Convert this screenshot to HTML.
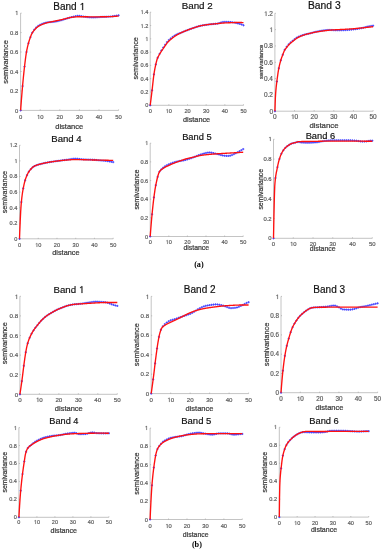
<!DOCTYPE html><html><head><meta charset="utf-8"><style>html,body{margin:0;padding:0;background:#fff;width:382px;height:550px;overflow:hidden}svg{display:block;will-change:transform}</style></head><body>
<svg width="382" height="550" viewBox="0 0 382 550">
<rect width="382" height="550" fill="#fff"/>
<g font-family='"Liberation Sans", sans-serif'><path d="M20.60 13.10 V110.40 H118.60" fill="none" stroke="#c4c4c4" stroke-width="1"/><path d="M20.60 110.40 v-1.00 M40.20 110.40 v-1.00 M59.80 110.40 v-1.00 M79.40 110.40 v-1.00 M99.00 110.40 v-1.00 M118.60 110.40 v-1.00 M20.60 110.40 h1.00 M20.60 90.94 h1.00 M20.60 71.48 h1.00 M20.60 52.02 h1.00 M20.60 32.56 h1.00 M20.60 13.10 h1.00" fill="none" stroke="#9a9a9a" stroke-width="0.6"/><text x="20.60" y="119.00" font-size="5.90" text-anchor="middle" fill="#5a5a5a" stroke="#5a5a5a" stroke-width="0.18">0</text><text x="40.20" y="119.00" font-size="5.90" text-anchor="middle" fill="#5a5a5a" stroke="#5a5a5a" stroke-width="0.18"> 0</text><path transform="matrix(0.00288 0 0 -0.00288 36.919 119.000)" d="M583 0V1237L265 1010V1180L598 1409H764V0Z" fill="#5a5a5a" stroke="#5a5a5a" stroke-width="0.18" vector-effect="non-scaling-stroke"/><text x="59.80" y="119.00" font-size="5.90" text-anchor="middle" fill="#5a5a5a" stroke="#5a5a5a" stroke-width="0.18">20</text><text x="79.40" y="119.00" font-size="5.90" text-anchor="middle" fill="#5a5a5a" stroke="#5a5a5a" stroke-width="0.18">30</text><text x="99.00" y="119.00" font-size="5.90" text-anchor="middle" fill="#5a5a5a" stroke="#5a5a5a" stroke-width="0.18">40</text><text x="118.60" y="119.00" font-size="5.90" text-anchor="middle" fill="#5a5a5a" stroke="#5a5a5a" stroke-width="0.18">50</text><text x="18.30" y="113.00" font-size="5.90" text-anchor="end" fill="#5a5a5a" stroke="#5a5a5a" stroke-width="0.18">0</text><text x="18.30" y="93.00" font-size="5.90" text-anchor="end" fill="#5a5a5a" stroke="#5a5a5a" stroke-width="0.18">0.2</text><text x="18.30" y="74.00" font-size="5.90" text-anchor="end" fill="#5a5a5a" stroke="#5a5a5a" stroke-width="0.18">0.4</text><text x="18.30" y="54.00" font-size="5.90" text-anchor="end" fill="#5a5a5a" stroke="#5a5a5a" stroke-width="0.18">0.6</text><text x="18.30" y="35.00" font-size="5.90" text-anchor="end" fill="#5a5a5a" stroke="#5a5a5a" stroke-width="0.18">0.8</text><text x="18.30" y="15.00" font-size="5.90" text-anchor="end" fill="#5a5a5a" stroke="#5a5a5a" stroke-width="0.18"> </text><path transform="matrix(0.00288 0 0 -0.00288 15.019 15.000)" d="M583 0V1237L265 1010V1180L598 1409H764V0Z" fill="#5a5a5a" stroke="#5a5a5a" stroke-width="0.18" vector-effect="non-scaling-stroke"/><text x="69.20" y="128.80" font-size="7.50" text-anchor="middle" fill="#3a3a3a" stroke="#3a3a3a" stroke-width="0.22">distance</text><text transform="translate(7.90 62.00) rotate(-90)" font-size="7.40" text-anchor="middle" fill="#3a3a3a" stroke="#3a3a3a" stroke-width="0.22">semivariance</text><text x="69.10" y="10.00" font-size="10.00" text-anchor="middle" fill="#111" stroke="#111" stroke-width="0.18">Band  </text><path transform="matrix(0.00488 0 0 -0.00488 79.386 10.000)" d="M583 0V1237L265 1010V1180L598 1409H764V0Z" fill="#111" stroke="#111" stroke-width="0.18" vector-effect="non-scaling-stroke"/><path d="M19.50 110.40h2.20M20.60 109.30v2.20M21.46 86.08h2.20M22.56 84.98v2.20M23.42 66.62h2.20M24.52 65.52v2.20M25.38 52.02h2.20M26.48 50.92v2.20M27.34 43.26h2.20M28.44 42.16v2.20M29.30 37.20h2.20M30.40 36.10v2.20M31.26 32.59h2.20M32.36 31.49v2.20M33.22 29.64h2.20M34.32 28.54v2.20M35.18 27.44h2.20M36.28 26.34v2.20M37.14 25.88h2.20M38.24 24.78v2.20M39.10 24.77h2.20M40.20 23.67v2.20M41.06 23.89h2.20M42.16 22.79v2.20M43.02 23.13h2.20M44.12 22.03v2.20M44.98 22.58h2.20M46.08 21.48v2.20M46.94 22.27h2.20M48.04 21.17v2.20M48.90 22.08h2.20M50.00 20.98v2.20M50.86 21.96h2.20M51.96 20.86v2.20M52.82 21.84h2.20M53.92 20.74v2.20M54.78 21.55h2.20M55.88 20.45v2.20M56.74 21.11h2.20M57.84 20.01v2.20M58.70 20.63h2.20M59.80 19.53v2.20M60.66 20.11h2.20M61.76 19.01v2.20M62.62 19.54h2.20M63.72 18.44v2.20M64.58 18.91h2.20M65.68 17.81v2.20M66.54 18.27h2.20M67.64 17.17v2.20M68.50 17.65h2.20M69.60 16.55v2.20M70.46 17.13h2.20M71.56 16.03v2.20M72.42 16.70h2.20M73.52 15.60v2.20M74.38 16.22h2.20M75.48 15.12v2.20M76.34 15.89h2.20M77.44 14.79v2.20M78.30 15.92h2.20M79.40 14.82v2.20M80.26 16.22h2.20M81.36 15.12v2.20M82.22 16.58h2.20M83.32 15.48v2.20M84.18 16.84h2.20M85.28 15.74v2.20M86.14 17.08h2.20M87.24 15.98v2.20M88.10 17.29h2.20M89.20 16.19v2.20M90.06 17.43h2.20M91.16 16.33v2.20M92.02 17.48h2.20M93.12 16.38v2.20M93.98 17.41h2.20M95.08 16.31v2.20M95.94 17.26h2.20M97.04 16.16v2.20M97.90 17.10h2.20M99.00 16.00v2.20M99.86 16.99h2.20M100.96 15.89v2.20M101.82 16.91h2.20M102.92 15.81v2.20M103.78 16.84h2.20M104.88 15.74v2.20M105.74 16.76h2.20M106.84 15.66v2.20M107.70 16.66h2.20M108.80 15.56v2.20M109.66 16.51h2.20M110.76 15.41v2.20M111.62 16.28h2.20M112.72 15.18v2.20M113.58 15.99h2.20M114.68 14.89v2.20M115.54 15.67h2.20M116.64 14.57v2.20M117.50 15.34h2.20M118.60 14.24v2.20" fill="none" stroke="#4040ff" stroke-width="0.9"/><polyline points="20.60,110.40 20.85,107.09 21.09,103.85 21.34,100.68 21.58,97.60 21.83,94.59 22.07,91.66 22.32,88.82 22.56,86.08 22.80,83.40 23.05,80.78 23.30,78.22 23.54,75.73 23.79,73.32 24.03,70.99 24.28,68.75 24.52,66.62 24.77,64.54 25.01,62.50 25.26,60.52 25.50,58.60 25.75,56.78 25.99,55.06 26.23,53.47 26.48,52.02 26.73,50.69 26.97,49.45 27.22,48.28 27.46,47.17 27.71,46.12 27.95,45.13 28.20,44.18 28.44,43.26 28.69,42.39 28.93,41.56 29.18,40.76 29.42,40.00 29.66,39.27 29.91,38.56 30.16,37.87 30.40,37.20 30.65,36.52 30.89,35.86 31.14,35.22 31.38,34.62 31.62,34.08 31.87,33.59 32.12,33.16 32.36,32.74 32.61,32.35 32.85,31.98 33.09,31.62 33.34,31.29 33.59,30.96 33.83,30.66 34.08,30.36 34.32,30.07 34.56,29.79 34.81,29.52 35.05,29.26 35.30,28.99 35.55,28.74 35.79,28.49 36.04,28.25 36.28,28.02 36.52,27.79 36.77,27.58 37.02,27.37 37.26,27.17 37.51,26.98 37.75,26.80 38.00,26.63 38.24,26.46 38.48,26.31 38.73,26.16 38.98,26.01 39.22,25.87 39.47,25.74 39.71,25.61 39.95,25.48 40.20,25.35 40.45,25.23 40.69,25.12 40.94,25.00 41.18,24.89 41.42,24.78 41.67,24.68 41.92,24.57 42.16,24.47 42.41,24.37 42.65,24.27 42.89,24.17 43.14,24.08 43.39,23.98 43.63,23.89 43.88,23.80 44.12,23.71 44.37,23.62 44.61,23.54 44.86,23.45 45.10,23.37 45.34,23.29 45.59,23.21 45.84,23.13 46.08,23.06 46.33,22.98 46.57,22.91 46.81,22.84 47.06,22.77 47.30,22.71 47.55,22.64 47.80,22.58 48.04,22.52 48.28,22.46 48.53,22.40 48.78,22.34 49.02,22.29 49.27,22.24 49.51,22.18 49.76,22.13 50.00,22.08 50.25,22.03 50.49,21.98 50.73,21.94 50.98,21.89 51.23,21.84 51.47,21.79 51.72,21.74 51.96,21.69 52.20,21.64 52.45,21.59 52.70,21.54 52.94,21.49 53.19,21.44 53.43,21.39 53.68,21.34 53.92,21.28 54.16,21.23 54.41,21.18 54.66,21.13 54.90,21.08 55.15,21.03 55.39,20.97 55.63,20.92 55.88,20.87 56.12,20.82 56.37,20.77 56.62,20.72 56.86,20.67 57.11,20.61 57.35,20.56 57.59,20.51 57.84,20.46 58.09,20.41 58.33,20.36 58.58,20.30 58.82,20.25 59.06,20.20 59.31,20.15 59.55,20.10 59.80,20.04 60.05,19.99 60.29,19.94 60.54,19.88 60.78,19.83 61.02,19.78 61.27,19.73 61.52,19.67 61.76,19.62 62.01,19.56 62.25,19.51 62.49,19.45 62.74,19.39 62.98,19.33 63.23,19.27 63.48,19.21 63.72,19.15 63.97,19.09 64.21,19.02 64.45,18.96 64.70,18.90 64.94,18.83 65.19,18.77 65.44,18.70 65.68,18.64 65.92,18.57 66.17,18.51 66.41,18.44 66.66,18.38 66.91,18.31 67.15,18.25 67.40,18.19 67.64,18.12 67.88,18.06 68.13,18.00 68.38,17.94 68.62,17.88 68.87,17.83 69.11,17.77 69.36,17.72 69.60,17.66 69.84,17.61 70.09,17.56 70.34,17.52 70.58,17.47 70.83,17.43 71.07,17.39 71.31,17.35 71.56,17.31 71.81,17.28 72.05,17.24 72.30,17.21 72.54,17.19 72.78,17.16 73.03,17.14 73.28,17.11 73.52,17.08 73.77,17.06 74.01,17.03 74.25,17.01 74.50,16.99 74.75,16.96 74.99,16.94 75.23,16.92 75.48,16.90 75.72,16.87 75.97,16.85 76.22,16.84 76.46,16.82 76.70,16.80 76.95,16.78 77.19,16.77 77.44,16.75 77.69,16.74 77.93,16.73 78.17,16.72 78.42,16.71 78.66,16.71 78.91,16.70 79.16,16.70 79.40,16.70 79.65,16.70 79.89,16.70 80.13,16.70 80.38,16.70 80.62,16.70 80.87,16.71 81.12,16.71 81.36,16.71 81.60,16.71 81.85,16.72 82.09,16.72 82.34,16.72 82.59,16.72 82.83,16.73 83.08,16.73 83.32,16.73 83.56,16.74 83.81,16.74 84.06,16.75 84.30,16.75 84.55,16.75 84.79,16.76 85.03,16.76 85.28,16.76 85.53,16.77 85.77,16.77 86.01,16.77 86.26,16.78 86.50,16.78 86.75,16.78 87.00,16.78 87.24,16.79 87.49,16.79 87.73,16.79 87.97,16.79 88.22,16.79 88.47,16.80 88.71,16.80 88.96,16.80 89.20,16.80 89.44,16.80 89.69,16.80 89.94,16.80 90.18,16.80 90.43,16.80 90.67,16.80 90.91,16.80 91.16,16.80 91.41,16.80 91.65,16.80 91.90,16.80 92.14,16.80 92.38,16.80 92.63,16.80 92.88,16.80 93.12,16.80 93.37,16.80 93.61,16.80 93.85,16.80 94.10,16.80 94.34,16.80 94.59,16.80 94.84,16.80 95.08,16.80 95.32,16.80 95.57,16.80 95.81,16.80 96.06,16.80 96.31,16.80 96.55,16.80 96.79,16.80 97.04,16.80 97.28,16.80 97.53,16.80 97.78,16.80 98.02,16.80 98.26,16.80 98.51,16.80 98.75,16.80 99.00,16.80 99.25,16.80 99.49,16.80 99.74,16.80 99.98,16.80 100.22,16.79 100.47,16.79 100.72,16.79 100.96,16.79 101.21,16.79 101.45,16.79 101.69,16.78 101.94,16.78 102.19,16.78 102.43,16.78 102.68,16.77 102.92,16.77 103.16,16.77 103.41,16.77 103.66,16.76 103.90,16.76 104.15,16.75 104.39,16.75 104.63,16.75 104.88,16.74 105.12,16.74 105.37,16.73 105.62,16.73 105.86,16.72 106.10,16.72 106.35,16.71 106.59,16.71 106.84,16.70 107.09,16.70 107.33,16.69 107.57,16.69 107.82,16.68 108.06,16.67 108.31,16.67 108.56,16.66 108.80,16.66 109.04,16.65 109.29,16.64 109.53,16.64 109.78,16.63 110.03,16.62 110.27,16.62 110.51,16.61 110.76,16.60 111.00,16.60 111.25,16.59 111.50,16.58 111.74,16.57 111.99,16.56 112.23,16.54 112.47,16.53 112.72,16.52 112.97,16.50 113.21,16.49 113.46,16.47 113.70,16.45 113.94,16.44 114.19,16.42 114.44,16.40 114.68,16.38 114.93,16.36 115.17,16.34 115.41,16.32 115.66,16.30 115.91,16.27 116.15,16.25 116.40,16.23 116.64,16.21 116.88,16.18 117.13,16.16 117.38,16.14 117.62,16.11 117.87,16.09 118.11,16.07 118.35,16.04 118.60,16.02" fill="none" stroke="#ff1010" stroke-width="1.35" stroke-linejoin="round"/></g>
<g font-family='"Liberation Sans", sans-serif'><path d="M150.20 12.20 V105.30 H243.50" fill="none" stroke="#c4c4c4" stroke-width="1"/><path d="M150.20 105.30 v-1.00 M168.86 105.30 v-1.00 M187.52 105.30 v-1.00 M206.18 105.30 v-1.00 M224.84 105.30 v-1.00 M243.50 105.30 v-1.00 M150.20 105.30 h1.00 M150.20 92.00 h1.00 M150.20 78.70 h1.00 M150.20 65.40 h1.00 M150.20 52.10 h1.00 M150.20 38.80 h1.00 M150.20 25.50 h1.00 M150.20 12.20 h1.00" fill="none" stroke="#9a9a9a" stroke-width="0.6"/><text x="150.20" y="113.00" font-size="5.60" text-anchor="middle" fill="#5a5a5a" stroke="#5a5a5a" stroke-width="0.18">0</text><text x="168.86" y="113.00" font-size="5.60" text-anchor="middle" fill="#5a5a5a" stroke="#5a5a5a" stroke-width="0.18"> 0</text><path transform="matrix(0.00273 0 0 -0.00273 165.746 113.000)" d="M583 0V1237L265 1010V1180L598 1409H764V0Z" fill="#5a5a5a" stroke="#5a5a5a" stroke-width="0.18" vector-effect="non-scaling-stroke"/><text x="187.52" y="113.00" font-size="5.60" text-anchor="middle" fill="#5a5a5a" stroke="#5a5a5a" stroke-width="0.18">20</text><text x="206.18" y="113.00" font-size="5.60" text-anchor="middle" fill="#5a5a5a" stroke="#5a5a5a" stroke-width="0.18">30</text><text x="224.84" y="113.00" font-size="5.60" text-anchor="middle" fill="#5a5a5a" stroke="#5a5a5a" stroke-width="0.18">40</text><text x="243.50" y="113.00" font-size="5.60" text-anchor="middle" fill="#5a5a5a" stroke="#5a5a5a" stroke-width="0.18">50</text><text x="148.30" y="107.00" font-size="5.60" text-anchor="end" fill="#5a5a5a" stroke="#5a5a5a" stroke-width="0.18">0</text><text x="148.30" y="94.00" font-size="5.60" text-anchor="end" fill="#5a5a5a" stroke="#5a5a5a" stroke-width="0.18">0.2</text><text x="148.30" y="81.00" font-size="5.60" text-anchor="end" fill="#5a5a5a" stroke="#5a5a5a" stroke-width="0.18">0.4</text><text x="148.30" y="67.00" font-size="5.60" text-anchor="end" fill="#5a5a5a" stroke="#5a5a5a" stroke-width="0.18">0.6</text><text x="148.30" y="54.00" font-size="5.60" text-anchor="end" fill="#5a5a5a" stroke="#5a5a5a" stroke-width="0.18">0.8</text><text x="148.30" y="41.00" font-size="5.60" text-anchor="end" fill="#5a5a5a" stroke="#5a5a5a" stroke-width="0.18"> </text><path transform="matrix(0.00273 0 0 -0.00273 145.186 41.000)" d="M583 0V1237L265 1010V1180L598 1409H764V0Z" fill="#5a5a5a" stroke="#5a5a5a" stroke-width="0.18" vector-effect="non-scaling-stroke"/><text x="148.30" y="28.00" font-size="5.60" text-anchor="end" fill="#5a5a5a" stroke="#5a5a5a" stroke-width="0.18"> .2</text><path transform="matrix(0.00273 0 0 -0.00273 140.515 28.000)" d="M583 0V1237L265 1010V1180L598 1409H764V0Z" fill="#5a5a5a" stroke="#5a5a5a" stroke-width="0.18" vector-effect="non-scaling-stroke"/><text x="148.30" y="14.00" font-size="5.60" text-anchor="end" fill="#5a5a5a" stroke="#5a5a5a" stroke-width="0.18"> .4</text><path transform="matrix(0.00273 0 0 -0.00273 140.515 14.000)" d="M583 0V1237L265 1010V1180L598 1409H764V0Z" fill="#5a5a5a" stroke="#5a5a5a" stroke-width="0.18" vector-effect="non-scaling-stroke"/><text x="196.60" y="121.50" font-size="7.30" text-anchor="middle" fill="#3a3a3a" stroke="#3a3a3a" stroke-width="0.22">distance</text><text transform="translate(137.80 58.40) rotate(-90)" font-size="7.20" text-anchor="middle" fill="#3a3a3a" stroke="#3a3a3a" stroke-width="0.22">semivariance</text><text x="197.20" y="9.00" font-size="9.80" text-anchor="middle" fill="#111" stroke="#111" stroke-width="0.18">Band 2</text><path d="M149.10 105.30h2.20M150.20 104.20v2.20M150.97 90.34h2.20M152.07 89.24v2.20M152.83 74.38h2.20M153.93 73.28v2.20M154.70 64.40h2.20M155.80 63.30v2.20M156.56 57.82h2.20M157.66 56.72v2.20M158.43 53.93h2.20M159.53 52.83v2.20M160.30 50.44h2.20M161.40 49.34v2.20M162.16 47.51h2.20M163.26 46.41v2.20M164.03 44.79h2.20M165.13 43.69v2.20M165.89 42.12h2.20M166.99 41.02v2.20M167.76 40.04h2.20M168.86 38.94v2.20M169.63 38.43h2.20M170.73 37.33v2.20M171.49 36.99h2.20M172.59 35.89v2.20M173.36 35.73h2.20M174.46 34.63v2.20M175.22 34.64h2.20M176.32 33.54v2.20M177.09 33.79h2.20M178.19 32.69v2.20M178.96 33.11h2.20M180.06 32.01v2.20M180.82 32.37h2.20M181.92 31.27v2.20M182.69 31.57h2.20M183.79 30.47v2.20M184.55 30.81h2.20M185.65 29.71v2.20M186.42 30.09h2.20M187.52 28.99v2.20M188.29 29.39h2.20M189.39 28.29v2.20M190.15 28.71h2.20M191.25 27.61v2.20M192.02 28.07h2.20M193.12 26.97v2.20M193.88 27.44h2.20M194.98 26.34v2.20M195.75 26.82h2.20M196.85 25.72v2.20M197.62 26.26h2.20M198.72 25.16v2.20M199.48 25.79h2.20M200.58 24.69v2.20M201.35 25.42h2.20M202.45 24.32v2.20M203.21 25.10h2.20M204.31 24.00v2.20M205.08 24.82h2.20M206.18 23.72v2.20M206.95 24.57h2.20M208.05 23.47v2.20M208.81 24.34h2.20M209.91 23.24v2.20M210.68 24.15h2.20M211.78 23.05v2.20M212.54 23.97h2.20M213.64 22.87v2.20M214.41 23.79h2.20M215.51 22.69v2.20M216.28 23.61h2.20M217.38 22.51v2.20M218.14 23.14h2.20M219.24 22.04v2.20M220.01 22.44h2.20M221.11 21.34v2.20M221.87 22.00h2.20M222.97 20.90v2.20M223.74 21.92h2.20M224.84 20.82v2.20M225.61 21.92h2.20M226.71 20.82v2.20M227.47 21.97h2.20M228.57 20.87v2.20M229.34 22.09h2.20M230.44 20.99v2.20M231.20 22.30h2.20M232.30 21.20v2.20M233.07 22.56h2.20M234.17 21.46v2.20M234.94 22.95h2.20M236.04 21.85v2.20M236.80 23.44h2.20M237.90 22.34v2.20M238.67 23.93h2.20M239.77 22.83v2.20M240.53 24.52h2.20M241.63 23.42v2.20M242.40 25.30h2.20M243.50 24.20v2.20" fill="none" stroke="#4040ff" stroke-width="0.9"/><polyline points="150.20,105.30 150.43,103.48 150.67,101.65 150.90,99.80 151.13,97.94 151.37,96.06 151.60,94.17 151.83,92.26 152.07,90.34 152.30,88.34 152.53,86.25 152.77,84.10 153.00,81.96 153.23,79.87 153.47,77.87 153.70,76.03 153.93,74.38 154.17,72.89 154.40,71.48 154.63,70.14 154.86,68.88 155.10,67.68 155.33,66.53 155.56,65.44 155.80,64.40 156.03,63.39 156.26,62.41 156.50,61.46 156.73,60.57 156.96,59.75 157.20,59.02 157.43,58.38 157.66,57.82 157.90,57.30 158.13,56.83 158.36,56.38 158.60,55.96 158.83,55.54 159.06,55.13 159.30,54.71 159.53,54.29 159.76,53.89 160.00,53.49 160.23,53.10 160.46,52.72 160.70,52.34 160.93,51.97 161.16,51.60 161.40,51.24 161.63,50.87 161.86,50.51 162.10,50.16 162.33,49.80 162.56,49.45 162.80,49.11 163.03,48.76 163.26,48.42 163.50,48.09 163.73,47.75 163.96,47.42 164.19,47.09 164.43,46.76 164.66,46.43 164.89,46.11 165.13,45.78 165.36,45.45 165.59,45.12 165.83,44.79 166.06,44.46 166.29,44.13 166.53,43.80 166.76,43.48 166.99,43.17 167.23,42.87 167.46,42.58 167.69,42.31 167.93,42.05 168.16,41.80 168.39,41.56 168.63,41.33 168.86,41.10 169.09,40.88 169.33,40.67 169.56,40.46 169.79,40.25 170.03,40.05 170.26,39.85 170.49,39.65 170.73,39.45 170.96,39.26 171.19,39.06 171.43,38.87 171.66,38.68 171.89,38.49 172.13,38.30 172.36,38.11 172.59,37.92 172.83,37.74 173.06,37.56 173.29,37.38 173.52,37.21 173.76,37.04 173.99,36.86 174.22,36.70 174.46,36.53 174.69,36.37 174.92,36.21 175.16,36.05 175.39,35.90 175.62,35.75 175.86,35.60 176.09,35.45 176.32,35.31 176.56,35.17 176.79,35.03 177.02,34.89 177.26,34.75 177.49,34.61 177.72,34.48 177.96,34.35 178.19,34.22 178.42,34.09 178.66,33.97 178.89,33.84 179.12,33.72 179.36,33.60 179.59,33.48 179.82,33.36 180.06,33.25 180.29,33.13 180.52,33.02 180.76,32.91 180.99,32.80 181.22,32.69 181.46,32.58 181.69,32.48 181.92,32.37 182.16,32.27 182.39,32.17 182.62,32.07 182.85,31.96 183.09,31.86 183.32,31.76 183.55,31.66 183.79,31.57 184.02,31.47 184.25,31.37 184.49,31.28 184.72,31.18 184.95,31.09 185.19,30.99 185.42,30.90 185.65,30.81 185.89,30.71 186.12,30.62 186.35,30.53 186.59,30.44 186.82,30.35 187.05,30.26 187.29,30.17 187.52,30.09 187.75,30.00 187.99,29.91 188.22,29.82 188.45,29.73 188.69,29.65 188.92,29.56 189.15,29.47 189.39,29.39 189.62,29.30 189.85,29.22 190.09,29.13 190.32,29.05 190.55,28.96 190.79,28.88 191.02,28.79 191.25,28.71 191.49,28.63 191.72,28.55 191.95,28.47 192.19,28.39 192.42,28.31 192.65,28.23 192.88,28.15 193.12,28.07 193.35,28.00 193.58,27.92 193.82,27.84 194.05,27.76 194.28,27.68 194.52,27.60 194.75,27.52 194.98,27.44 195.22,27.36 195.45,27.28 195.68,27.21 195.92,27.13 196.15,27.05 196.38,26.97 196.62,26.90 196.85,26.82 197.08,26.75 197.32,26.68 197.55,26.60 197.78,26.53 198.02,26.46 198.25,26.39 198.48,26.33 198.72,26.26 198.95,26.20 199.18,26.13 199.42,26.07 199.65,26.01 199.88,25.95 200.12,25.90 200.35,25.85 200.58,25.79 200.82,25.74 201.05,25.70 201.28,25.65 201.51,25.60 201.75,25.56 201.98,25.51 202.21,25.47 202.45,25.42 202.68,25.38 202.91,25.34 203.15,25.30 203.38,25.26 203.61,25.22 203.85,25.18 204.08,25.14 204.31,25.10 204.55,25.06 204.78,25.03 205.01,24.99 205.25,24.95 205.48,24.92 205.71,24.89 205.95,24.85 206.18,24.82 206.41,24.78 206.65,24.75 206.88,24.72 207.11,24.69 207.35,24.66 207.58,24.63 207.81,24.60 208.05,24.57 208.28,24.54 208.51,24.51 208.75,24.48 208.98,24.45 209.21,24.42 209.45,24.39 209.68,24.37 209.91,24.34 210.15,24.32 210.38,24.29 210.61,24.27 210.84,24.24 211.08,24.22 211.31,24.19 211.54,24.17 211.78,24.15 212.01,24.12 212.24,24.10 212.48,24.08 212.71,24.05 212.94,24.03 213.18,24.01 213.41,23.99 213.64,23.97 213.88,23.94 214.11,23.92 214.34,23.90 214.58,23.88 214.81,23.86 215.04,23.83 215.28,23.81 215.51,23.79 215.74,23.77 215.98,23.75 216.21,23.72 216.44,23.70 216.68,23.68 216.91,23.65 217.14,23.63 217.38,23.61 217.61,23.58 217.84,23.56 218.08,23.54 218.31,23.51 218.54,23.49 218.78,23.46 219.01,23.44 219.24,23.41 219.48,23.39 219.71,23.36 219.94,23.34 220.18,23.32 220.41,23.29 220.64,23.27 220.87,23.25 221.11,23.22 221.34,23.20 221.57,23.18 221.81,23.16 222.04,23.14 222.27,23.12 222.51,23.10 222.74,23.08 222.97,23.06 223.21,23.04 223.44,23.03 223.67,23.01 223.91,22.99 224.14,22.98 224.37,22.97 224.61,22.95 224.84,22.94 225.07,22.93 225.31,22.92 225.54,22.90 225.77,22.89 226.01,22.88 226.24,22.87 226.47,22.86 226.71,22.85 226.94,22.84 227.17,22.83 227.41,22.82 227.64,22.81 227.87,22.80 228.11,22.79 228.34,22.78 228.57,22.77 228.81,22.76 229.04,22.75 229.27,22.74 229.50,22.73 229.74,22.73 229.97,22.72 230.20,22.71 230.44,22.70 230.67,22.69 230.90,22.68 231.14,22.68 231.37,22.67 231.60,22.66 231.84,22.65 232.07,22.64 232.30,22.63 232.54,22.62 232.77,22.62 233.00,22.61 233.24,22.60 233.47,22.59 233.70,22.58 233.94,22.57 234.17,22.56 234.40,22.55 234.64,22.54 234.87,22.53 235.10,22.52 235.34,22.51 235.57,22.50 235.80,22.49 236.04,22.48 236.27,22.48 236.50,22.47 236.74,22.46 236.97,22.46 237.20,22.45 237.44,22.45 237.67,22.45 237.90,22.44 238.14,22.44 238.37,22.44 238.60,22.44 238.84,22.44 239.07,22.44 239.30,22.45 239.53,22.45 239.77,22.46 240.00,22.46 240.23,22.47 240.47,22.48 240.70,22.49 240.93,22.49 241.17,22.50 241.40,22.52 241.63,22.53 241.87,22.54 242.10,22.55 242.33,22.56 242.57,22.58 242.80,22.59 243.03,22.61 243.27,22.62 243.50,22.64" fill="none" stroke="#ff1010" stroke-width="1.35" stroke-linejoin="round"/></g>
<g font-family='"Liberation Sans", sans-serif'><path d="M274.90 13.30 V111.20 H373.10" fill="none" stroke="#c4c4c4" stroke-width="1"/><path d="M274.90 111.20 v-1.00 M294.54 111.20 v-1.00 M314.18 111.20 v-1.00 M333.82 111.20 v-1.00 M353.46 111.20 v-1.00 M373.10 111.20 v-1.00 M274.90 111.20 h1.00 M274.90 94.88 h1.00 M274.90 78.57 h1.00 M274.90 62.25 h1.00 M274.90 45.93 h1.00 M274.90 29.62 h1.00 M274.90 13.30 h1.00" fill="none" stroke="#9a9a9a" stroke-width="0.6"/><text x="274.90" y="119.00" font-size="6.50" text-anchor="middle" fill="#5a5a5a" stroke="#5a5a5a" stroke-width="0.18">0</text><text x="294.54" y="119.00" font-size="6.50" text-anchor="middle" fill="#5a5a5a" stroke="#5a5a5a" stroke-width="0.18"> 0</text><path transform="matrix(0.00317 0 0 -0.00317 290.925 119.000)" d="M583 0V1237L265 1010V1180L598 1409H764V0Z" fill="#5a5a5a" stroke="#5a5a5a" stroke-width="0.18" vector-effect="non-scaling-stroke"/><text x="314.18" y="119.00" font-size="6.50" text-anchor="middle" fill="#5a5a5a" stroke="#5a5a5a" stroke-width="0.18">20</text><text x="333.82" y="119.00" font-size="6.50" text-anchor="middle" fill="#5a5a5a" stroke="#5a5a5a" stroke-width="0.18">30</text><text x="353.46" y="119.00" font-size="6.50" text-anchor="middle" fill="#5a5a5a" stroke="#5a5a5a" stroke-width="0.18">40</text><text x="373.10" y="119.00" font-size="6.50" text-anchor="middle" fill="#5a5a5a" stroke="#5a5a5a" stroke-width="0.18">50</text><text x="273.00" y="114.00" font-size="6.50" text-anchor="end" fill="#5a5a5a" stroke="#5a5a5a" stroke-width="0.18">0</text><text x="273.00" y="97.00" font-size="6.50" text-anchor="end" fill="#5a5a5a" stroke="#5a5a5a" stroke-width="0.18">0.2</text><text x="273.00" y="81.00" font-size="6.50" text-anchor="end" fill="#5a5a5a" stroke="#5a5a5a" stroke-width="0.18">0.4</text><text x="273.00" y="65.00" font-size="6.50" text-anchor="end" fill="#5a5a5a" stroke="#5a5a5a" stroke-width="0.18">0.6</text><text x="273.00" y="48.00" font-size="6.50" text-anchor="end" fill="#5a5a5a" stroke="#5a5a5a" stroke-width="0.18">0.8</text><text x="273.00" y="32.00" font-size="6.50" text-anchor="end" fill="#5a5a5a" stroke="#5a5a5a" stroke-width="0.18"> </text><path transform="matrix(0.00317 0 0 -0.00317 269.385 32.000)" d="M583 0V1237L265 1010V1180L598 1409H764V0Z" fill="#5a5a5a" stroke="#5a5a5a" stroke-width="0.18" vector-effect="non-scaling-stroke"/><text x="273.00" y="16.00" font-size="6.50" text-anchor="end" fill="#5a5a5a" stroke="#5a5a5a" stroke-width="0.18"> .2</text><path transform="matrix(0.00317 0 0 -0.00317 263.964 16.000)" d="M583 0V1237L265 1010V1180L598 1409H764V0Z" fill="#5a5a5a" stroke="#5a5a5a" stroke-width="0.18" vector-effect="non-scaling-stroke"/><text x="324.00" y="128.10" font-size="7.80" text-anchor="middle" fill="#3a3a3a" stroke="#3a3a3a" stroke-width="0.22">distance</text><text transform="translate(262.80 61.80) rotate(-90)" font-size="5.80" text-anchor="middle" fill="#3a3a3a" stroke="#3a3a3a" stroke-width="0.22">semivariance</text><text x="324.30" y="9.00" font-size="10.30" text-anchor="middle" fill="#111" stroke="#111" stroke-width="0.18">Band 3</text><path d="M273.80 111.20h2.20M274.90 110.10v2.20M275.76 81.50h2.20M276.86 80.40v2.20M277.73 68.21h2.20M278.83 67.11v2.20M279.69 60.29h2.20M280.79 59.19v2.20M281.66 54.74h2.20M282.76 53.64v2.20M283.62 49.77h2.20M284.72 48.67v2.20M285.58 46.76h2.20M286.68 45.66v2.20M287.55 44.36h2.20M288.65 43.26v2.20M289.51 42.42h2.20M290.61 41.32v2.20M291.48 40.85h2.20M292.58 39.75v2.20M293.44 39.26h2.20M294.54 38.16v2.20M295.40 37.82h2.20M296.50 36.72v2.20M297.37 36.78h2.20M298.47 35.68v2.20M299.33 35.97h2.20M300.43 34.87v2.20M301.30 35.25h2.20M302.40 34.15v2.20M303.26 34.62h2.20M304.36 33.52v2.20M305.22 34.13h2.20M306.32 33.03v2.20M307.19 33.73h2.20M308.29 32.63v2.20M309.15 33.30h2.20M310.25 32.20v2.20M311.12 32.77h2.20M312.22 31.67v2.20M313.08 32.22h2.20M314.18 31.12v2.20M315.04 31.75h2.20M316.14 30.65v2.20M317.01 31.34h2.20M318.11 30.24v2.20M318.97 30.98h2.20M320.07 29.88v2.20M320.94 30.63h2.20M322.04 29.53v2.20M322.90 30.34h2.20M324.00 29.24v2.20M324.86 30.13h2.20M325.96 29.03v2.20M326.83 30.02h2.20M327.93 28.92v2.20M328.79 29.97h2.20M329.89 28.87v2.20M330.76 30.03h2.20M331.86 28.93v2.20M332.72 30.17h2.20M333.82 29.07v2.20M334.68 30.24h2.20M335.78 29.14v2.20M336.65 30.24h2.20M337.75 29.14v2.20M338.61 30.23h2.20M339.71 29.13v2.20M340.58 30.20h2.20M341.68 29.10v2.20M342.54 30.16h2.20M343.64 29.06v2.20M344.50 30.07h2.20M345.60 28.97v2.20M346.47 29.95h2.20M347.57 28.85v2.20M348.43 29.79h2.20M349.53 28.69v2.20M350.40 29.60h2.20M351.50 28.50v2.20M352.36 29.38h2.20M353.46 28.28v2.20M354.32 29.14h2.20M355.42 28.04v2.20M356.29 28.87h2.20M357.39 27.77v2.20M358.25 28.55h2.20M359.35 27.45v2.20M360.22 28.18h2.20M361.32 27.08v2.20M362.18 27.76h2.20M363.28 26.66v2.20M364.14 27.21h2.20M365.24 26.11v2.20M366.11 26.69h2.20M367.21 25.59v2.20M368.07 26.31h2.20M369.17 25.21v2.20M370.04 25.97h2.20M371.14 24.87v2.20M372.00 25.70h2.20M373.10 24.60v2.20" fill="none" stroke="#4040ff" stroke-width="0.9"/><polyline points="274.90,111.20 275.15,103.71 275.39,97.50 275.64,93.51 275.88,90.39 276.13,87.79 276.37,85.55 276.62,83.50 276.86,81.50 277.11,79.51 277.35,77.60 277.60,75.79 277.85,74.06 278.09,72.44 278.34,70.92 278.58,69.50 278.83,68.21 279.07,67.01 279.32,65.88 279.56,64.82 279.81,63.82 280.06,62.88 280.30,61.98 280.55,61.12 280.79,60.29 281.04,59.50 281.28,58.75 281.53,58.03 281.77,57.34 282.02,56.67 282.26,56.02 282.51,55.38 282.76,54.74 283.00,54.11 283.25,53.47 283.49,52.83 283.74,52.21 283.98,51.62 284.23,51.06 284.47,50.55 284.72,50.09 284.97,49.69 285.21,49.32 285.46,48.97 285.70,48.65 285.95,48.34 286.19,48.03 286.44,47.73 286.68,47.42 286.93,47.10 287.17,46.79 287.42,46.49 287.67,46.18 287.91,45.88 288.16,45.59 288.40,45.30 288.65,45.02 288.89,44.74 289.14,44.48 289.38,44.22 289.63,43.97 289.88,43.73 290.12,43.51 290.37,43.29 290.61,43.07 290.86,42.87 291.10,42.66 291.35,42.46 291.59,42.27 291.84,42.08 292.08,41.88 292.33,41.69 292.58,41.50 292.82,41.31 293.07,41.11 293.31,40.91 293.56,40.71 293.80,40.51 294.05,40.31 294.29,40.11 294.54,39.91 294.79,39.71 295.03,39.52 295.28,39.32 295.52,39.14 295.77,38.95 296.01,38.77 296.26,38.60 296.50,38.44 296.75,38.28 297.00,38.12 297.24,37.98 297.49,37.84 297.73,37.70 297.98,37.57 298.22,37.44 298.47,37.31 298.71,37.19 298.96,37.07 299.20,36.95 299.45,36.84 299.70,36.72 299.94,36.61 300.19,36.50 300.43,36.40 300.68,36.29 300.92,36.19 301.17,36.08 301.41,35.98 301.66,35.88 301.90,35.78 302.15,35.68 302.40,35.58 302.64,35.48 302.89,35.39 303.13,35.29 303.38,35.20 303.62,35.11 303.87,35.02 304.11,34.94 304.36,34.85 304.61,34.77 304.85,34.69 305.10,34.61 305.34,34.54 305.59,34.46 305.83,34.39 306.08,34.32 306.32,34.25 306.57,34.19 306.81,34.12 307.06,34.06 307.31,34.00 307.55,33.94 307.80,33.88 308.04,33.82 308.29,33.76 308.53,33.71 308.78,33.65 309.02,33.59 309.27,33.53 309.52,33.48 309.76,33.42 310.01,33.36 310.25,33.30 310.50,33.24 310.74,33.18 310.99,33.12 311.23,33.06 311.48,33.00 311.73,32.93 311.97,32.87 312.22,32.81 312.46,32.74 312.71,32.68 312.95,32.62 313.20,32.57 313.44,32.51 313.69,32.46 313.93,32.40 314.18,32.36 314.43,32.31 314.67,32.26 314.92,32.21 315.16,32.17 315.41,32.12 315.65,32.08 315.90,32.04 316.14,31.99 316.39,31.95 316.63,31.91 316.88,31.87 317.13,31.83 317.37,31.79 317.62,31.75 317.86,31.71 318.11,31.67 318.35,31.63 318.60,31.59 318.84,31.55 319.09,31.52 319.34,31.48 319.58,31.44 319.83,31.41 320.07,31.37 320.32,31.34 320.56,31.30 320.81,31.27 321.05,31.23 321.30,31.20 321.55,31.16 321.79,31.13 322.04,31.10 322.28,31.06 322.53,31.03 322.77,30.99 323.02,30.96 323.26,30.93 323.51,30.89 323.75,30.86 324.00,30.82 324.25,30.79 324.49,30.76 324.74,30.72 324.98,30.69 325.23,30.66 325.47,30.63 325.72,30.60 325.96,30.56 326.21,30.53 326.45,30.50 326.70,30.47 326.95,30.44 327.19,30.41 327.44,30.38 327.68,30.36 327.93,30.33 328.17,30.30 328.42,30.27 328.66,30.25 328.91,30.22 329.16,30.20 329.40,30.18 329.65,30.16 329.89,30.13 330.14,30.11 330.38,30.09 330.63,30.07 330.87,30.06 331.12,30.04 331.37,30.02 331.61,30.00 331.86,29.99 332.10,29.97 332.35,29.95 332.59,29.94 332.84,29.92 333.08,29.91 333.33,29.89 333.57,29.88 333.82,29.86 334.07,29.85 334.31,29.83 334.56,29.82 334.80,29.81 335.05,29.79 335.29,29.78 335.54,29.77 335.78,29.75 336.03,29.74 336.27,29.73 336.52,29.71 336.77,29.70 337.01,29.69 337.26,29.68 337.50,29.66 337.75,29.65 337.99,29.64 338.24,29.62 338.48,29.61 338.73,29.60 338.98,29.58 339.22,29.57 339.47,29.56 339.71,29.55 339.96,29.53 340.20,29.52 340.45,29.51 340.69,29.50 340.94,29.49 341.19,29.47 341.43,29.46 341.68,29.45 341.92,29.44 342.17,29.43 342.41,29.42 342.66,29.41 342.90,29.39 343.15,29.38 343.39,29.37 343.64,29.36 343.89,29.35 344.13,29.33 344.38,29.32 344.62,29.31 344.87,29.30 345.11,29.28 345.36,29.27 345.60,29.26 345.85,29.24 346.10,29.23 346.34,29.22 346.59,29.20 346.83,29.19 347.08,29.17 347.32,29.16 347.57,29.14 347.81,29.13 348.06,29.11 348.30,29.10 348.55,29.08 348.80,29.06 349.04,29.05 349.29,29.03 349.53,29.02 349.78,29.00 350.02,28.98 350.27,28.97 350.51,28.95 350.76,28.93 351.00,28.91 351.25,28.90 351.50,28.88 351.74,28.86 351.99,28.84 352.23,28.82 352.48,28.80 352.72,28.79 352.97,28.77 353.21,28.75 353.46,28.73 353.71,28.71 353.95,28.69 354.20,28.67 354.44,28.65 354.69,28.63 354.93,28.61 355.18,28.59 355.42,28.57 355.67,28.54 355.92,28.52 356.16,28.50 356.41,28.48 356.65,28.45 356.90,28.43 357.14,28.40 357.39,28.38 357.63,28.36 357.88,28.33 358.12,28.31 358.37,28.28 358.62,28.26 358.86,28.23 359.11,28.20 359.35,28.18 359.60,28.15 359.84,28.13 360.09,28.10 360.33,28.07 360.58,28.05 360.83,28.02 361.07,28.00 361.32,27.97 361.56,27.94 361.81,27.92 362.05,27.89 362.30,27.87 362.54,27.84 362.79,27.81 363.03,27.79 363.28,27.76 363.53,27.74 363.77,27.71 364.02,27.68 364.26,27.66 364.51,27.63 364.75,27.61 365.00,27.58 365.24,27.55 365.49,27.53 365.74,27.50 365.98,27.47 366.23,27.45 366.47,27.42 366.72,27.39 366.96,27.37 367.21,27.34 367.45,27.31 367.70,27.29 367.94,27.26 368.19,27.23 368.44,27.21 368.68,27.18 368.93,27.15 369.17,27.12 369.42,27.10 369.66,27.07 369.91,27.04 370.15,27.01 370.40,26.99 370.65,26.96 370.89,26.93 371.14,26.90 371.38,26.88 371.63,26.85 371.87,26.82 372.12,26.79 372.36,26.76 372.61,26.74 372.85,26.71 373.10,26.68" fill="none" stroke="#ff1010" stroke-width="1.35" stroke-linejoin="round"/></g>
<g font-family='"Liberation Sans", sans-serif'><path d="M19.50 145.30 V238.80 H113.20" fill="none" stroke="#c4c4c4" stroke-width="1"/><path d="M19.50 238.80 v-1.00 M38.24 238.80 v-1.00 M56.98 238.80 v-1.00 M75.72 238.80 v-1.00 M94.46 238.80 v-1.00 M113.20 238.80 v-1.00 M19.50 238.80 h1.00 M19.50 223.22 h1.00 M19.50 207.63 h1.00 M19.50 192.05 h1.00 M19.50 176.47 h1.00 M19.50 160.88 h1.00 M19.50 145.30 h1.00" fill="none" stroke="#9a9a9a" stroke-width="0.6"/><text x="19.50" y="247.00" font-size="5.60" text-anchor="middle" fill="#5a5a5a" stroke="#5a5a5a" stroke-width="0.18">0</text><text x="38.24" y="247.00" font-size="5.60" text-anchor="middle" fill="#5a5a5a" stroke="#5a5a5a" stroke-width="0.18"> 0</text><path transform="matrix(0.00273 0 0 -0.00273 35.126 247.000)" d="M583 0V1237L265 1010V1180L598 1409H764V0Z" fill="#5a5a5a" stroke="#5a5a5a" stroke-width="0.18" vector-effect="non-scaling-stroke"/><text x="56.98" y="247.00" font-size="5.60" text-anchor="middle" fill="#5a5a5a" stroke="#5a5a5a" stroke-width="0.18">20</text><text x="75.72" y="247.00" font-size="5.60" text-anchor="middle" fill="#5a5a5a" stroke="#5a5a5a" stroke-width="0.18">30</text><text x="94.46" y="247.00" font-size="5.60" text-anchor="middle" fill="#5a5a5a" stroke="#5a5a5a" stroke-width="0.18">40</text><text x="113.20" y="247.00" font-size="5.60" text-anchor="middle" fill="#5a5a5a" stroke="#5a5a5a" stroke-width="0.18">50</text><text x="17.40" y="241.00" font-size="5.60" text-anchor="end" fill="#5a5a5a" stroke="#5a5a5a" stroke-width="0.18">0</text><text x="17.40" y="225.00" font-size="5.60" text-anchor="end" fill="#5a5a5a" stroke="#5a5a5a" stroke-width="0.18">0.2</text><text x="17.40" y="210.00" font-size="5.60" text-anchor="end" fill="#5a5a5a" stroke="#5a5a5a" stroke-width="0.18">0.4</text><text x="17.40" y="194.00" font-size="5.60" text-anchor="end" fill="#5a5a5a" stroke="#5a5a5a" stroke-width="0.18">0.6</text><text x="17.40" y="178.00" font-size="5.60" text-anchor="end" fill="#5a5a5a" stroke="#5a5a5a" stroke-width="0.18">0.8</text><text x="17.40" y="163.00" font-size="5.60" text-anchor="end" fill="#5a5a5a" stroke="#5a5a5a" stroke-width="0.18"> </text><path transform="matrix(0.00273 0 0 -0.00273 14.286 163.000)" d="M583 0V1237L265 1010V1180L598 1409H764V0Z" fill="#5a5a5a" stroke="#5a5a5a" stroke-width="0.18" vector-effect="non-scaling-stroke"/><text x="17.40" y="147.00" font-size="5.60" text-anchor="end" fill="#5a5a5a" stroke="#5a5a5a" stroke-width="0.18"> .2</text><path transform="matrix(0.00273 0 0 -0.00273 9.615 147.000)" d="M583 0V1237L265 1010V1180L598 1409H764V0Z" fill="#5a5a5a" stroke="#5a5a5a" stroke-width="0.18" vector-effect="non-scaling-stroke"/><text x="65.90" y="255.10" font-size="7.30" text-anchor="middle" fill="#3a3a3a" stroke="#3a3a3a" stroke-width="0.22">distance</text><text transform="translate(7.30 192.20) rotate(-90)" font-size="7.20" text-anchor="middle" fill="#3a3a3a" stroke="#3a3a3a" stroke-width="0.22">semivariance</text><text x="66.50" y="142.00" font-size="9.60" text-anchor="middle" fill="#111" stroke="#111" stroke-width="0.18">Band 4</text><path d="M18.40 238.80h2.20M19.50 237.70v2.20M20.27 202.09h2.20M21.37 200.99v2.20M22.15 188.39h2.20M23.25 187.29v2.20M24.02 180.33h2.20M25.12 179.23v2.20M25.90 175.19h2.20M27.00 174.09v2.20M27.77 171.67h2.20M28.87 170.57v2.20M29.64 169.24h2.20M30.74 168.14v2.20M31.52 167.34h2.20M32.62 166.24v2.20M33.39 166.09h2.20M34.49 164.99v2.20M35.27 165.27h2.20M36.37 164.17v2.20M37.14 164.64h2.20M38.24 163.54v2.20M39.01 164.12h2.20M40.11 163.02v2.20M40.89 163.66h2.20M41.99 162.56v2.20M42.76 163.21h2.20M43.86 162.11v2.20M44.64 162.82h2.20M45.74 161.72v2.20M46.51 162.46h2.20M47.61 161.36v2.20M48.38 162.14h2.20M49.48 161.04v2.20M50.26 161.84h2.20M51.36 160.74v2.20M52.13 161.56h2.20M53.23 160.46v2.20M54.01 161.30h2.20M55.11 160.20v2.20M55.88 161.05h2.20M56.98 159.95v2.20M57.75 160.81h2.20M58.85 159.71v2.20M59.63 160.56h2.20M60.73 159.46v2.20M61.50 160.30h2.20M62.60 159.20v2.20M63.38 160.05h2.20M64.48 158.95v2.20M65.25 159.82h2.20M66.35 158.72v2.20M67.12 159.57h2.20M68.22 158.47v2.20M69.00 159.25h2.20M70.10 158.15v2.20M70.87 158.96h2.20M71.97 157.86v2.20M72.75 158.75h2.20M73.85 157.65v2.20M74.62 158.71h2.20M75.72 157.61v2.20M76.49 158.83h2.20M77.59 157.73v2.20M78.37 159.04h2.20M79.47 157.94v2.20M80.24 159.26h2.20M81.34 158.16v2.20M82.12 159.40h2.20M83.22 158.30v2.20M83.99 159.47h2.20M85.09 158.37v2.20M85.86 159.53h2.20M86.96 158.43v2.20M87.74 159.60h2.20M88.84 158.50v2.20M89.61 159.67h2.20M90.71 158.57v2.20M91.49 159.75h2.20M92.59 158.65v2.20M93.36 159.87h2.20M94.46 158.77v2.20M95.23 160.04h2.20M96.33 158.94v2.20M97.11 160.22h2.20M98.21 159.12v2.20M98.98 160.40h2.20M100.08 159.30v2.20M100.86 160.56h2.20M101.96 159.46v2.20M102.73 160.71h2.20M103.83 159.61v2.20M104.60 160.89h2.20M105.70 159.79v2.20M106.48 161.11h2.20M107.58 160.01v2.20M108.35 161.44h2.20M109.45 160.34v2.20M110.23 161.81h2.20M111.33 160.71v2.20M112.10 162.13h2.20M113.20 161.03v2.20" fill="none" stroke="#4040ff" stroke-width="0.9"/><polyline points="19.50,238.80 19.73,232.72 19.97,226.88 20.20,221.38 20.44,216.32 20.67,211.79 20.91,207.87 21.14,204.67 21.37,202.09 21.61,199.77 21.84,197.66 22.08,195.76 22.31,194.03 22.55,192.45 22.78,191.00 23.01,189.66 23.25,188.39 23.48,187.18 23.72,186.04 23.95,184.95 24.19,183.92 24.42,182.94 24.65,182.02 24.89,181.15 25.12,180.33 25.36,179.55 25.59,178.83 25.82,178.15 26.06,177.52 26.29,176.90 26.53,176.31 26.76,175.74 27.00,175.19 27.23,174.67 27.46,174.17 27.70,173.69 27.93,173.24 28.17,172.81 28.40,172.41 28.64,172.03 28.87,171.67 29.10,171.34 29.34,171.02 29.57,170.70 29.81,170.40 30.04,170.10 30.28,169.80 30.51,169.52 30.74,169.24 30.98,168.97 31.21,168.71 31.45,168.46 31.68,168.22 31.92,167.98 32.15,167.76 32.38,167.54 32.62,167.34 32.85,167.14 33.09,166.96 33.32,166.79 33.55,166.62 33.79,166.47 34.02,166.33 34.26,166.21 34.49,166.09 34.73,165.97 34.96,165.86 35.19,165.76 35.43,165.65 35.66,165.55 35.90,165.46 36.13,165.36 36.37,165.27 36.60,165.18 36.83,165.10 37.07,165.02 37.30,164.94 37.54,164.86 37.77,164.78 38.01,164.71 38.24,164.64 38.47,164.57 38.71,164.50 38.94,164.43 39.18,164.37 39.41,164.31 39.65,164.24 39.88,164.18 40.11,164.12 40.35,164.06 40.58,164.00 40.82,163.94 41.05,163.89 41.29,163.83 41.52,163.77 41.75,163.71 41.99,163.66 42.22,163.60 42.46,163.54 42.69,163.49 42.92,163.43 43.16,163.37 43.39,163.32 43.63,163.27 43.86,163.21 44.10,163.16 44.33,163.11 44.56,163.06 44.80,163.01 45.03,162.96 45.27,162.92 45.50,162.87 45.74,162.82 45.97,162.77 46.20,162.73 46.44,162.68 46.67,162.64 46.91,162.59 47.14,162.55 47.38,162.51 47.61,162.46 47.84,162.42 48.08,162.38 48.31,162.34 48.55,162.30 48.78,162.26 49.02,162.22 49.25,162.18 49.48,162.14 49.72,162.10 49.95,162.06 50.19,162.02 50.42,161.98 50.66,161.95 50.89,161.91 51.12,161.87 51.36,161.84 51.59,161.80 51.83,161.76 52.06,161.73 52.30,161.69 52.53,161.66 52.76,161.62 53.00,161.59 53.23,161.56 53.47,161.52 53.70,161.49 53.93,161.46 54.17,161.42 54.40,161.39 54.64,161.36 54.87,161.33 55.11,161.30 55.34,161.26 55.57,161.23 55.81,161.20 56.04,161.17 56.28,161.14 56.51,161.11 56.75,161.08 56.98,161.05 57.21,161.02 57.45,161.00 57.68,160.97 57.92,160.94 58.15,160.91 58.39,160.88 58.62,160.86 58.85,160.83 59.09,160.80 59.32,160.77 59.56,160.75 59.79,160.72 60.03,160.69 60.26,160.66 60.49,160.64 60.73,160.61 60.96,160.58 61.20,160.56 61.43,160.53 61.66,160.51 61.90,160.48 62.13,160.45 62.37,160.43 62.60,160.40 62.84,160.38 63.07,160.35 63.30,160.33 63.54,160.31 63.77,160.28 64.01,160.26 64.24,160.24 64.48,160.22 64.71,160.20 64.94,160.17 65.18,160.15 65.41,160.13 65.65,160.11 65.88,160.09 66.12,160.08 66.35,160.06 66.58,160.04 66.82,160.02 67.05,160.01 67.29,159.99 67.52,159.97 67.76,159.95 67.99,159.93 68.22,159.92 68.46,159.90 68.69,159.88 68.93,159.86 69.16,159.84 69.40,159.83 69.63,159.81 69.86,159.79 70.10,159.78 70.33,159.76 70.57,159.74 70.80,159.73 71.03,159.71 71.27,159.70 71.50,159.68 71.74,159.67 71.97,159.65 72.21,159.64 72.44,159.63 72.67,159.62 72.91,159.61 73.14,159.60 73.38,159.59 73.61,159.58 73.85,159.58 74.08,159.57 74.31,159.57 74.55,159.56 74.78,159.56 75.02,159.56 75.25,159.56 75.49,159.56 75.72,159.56 75.95,159.56 76.19,159.56 76.42,159.56 76.66,159.57 76.89,159.57 77.13,159.57 77.36,159.58 77.59,159.58 77.83,159.58 78.06,159.59 78.30,159.59 78.53,159.60 78.77,159.60 79.00,159.61 79.23,159.61 79.47,159.62 79.70,159.62 79.94,159.63 80.17,159.63 80.41,159.64 80.64,159.64 80.87,159.65 81.11,159.66 81.34,159.66 81.58,159.67 81.81,159.67 82.04,159.68 82.28,159.69 82.51,159.69 82.75,159.70 82.98,159.70 83.22,159.71 83.45,159.71 83.68,159.72 83.92,159.72 84.15,159.73 84.39,159.74 84.62,159.74 84.86,159.75 85.09,159.75 85.32,159.76 85.56,159.77 85.79,159.77 86.03,159.78 86.26,159.79 86.50,159.79 86.73,159.80 86.96,159.81 87.20,159.82 87.43,159.82 87.67,159.83 87.90,159.84 88.14,159.84 88.37,159.85 88.60,159.86 88.84,159.87 89.07,159.87 89.31,159.88 89.54,159.89 89.78,159.89 90.01,159.90 90.24,159.91 90.48,159.91 90.71,159.92 90.95,159.93 91.18,159.93 91.41,159.94 91.65,159.94 91.88,159.95 92.12,159.95 92.35,159.96 92.59,159.96 92.82,159.97 93.05,159.97 93.29,159.98 93.52,159.98 93.76,159.99 93.99,159.99 94.23,160.00 94.46,160.00 94.69,160.00 94.93,160.01 95.16,160.01 95.40,160.02 95.63,160.02 95.87,160.02 96.10,160.03 96.33,160.03 96.57,160.04 96.80,160.04 97.04,160.04 97.27,160.05 97.51,160.05 97.74,160.06 97.97,160.06 98.21,160.06 98.44,160.07 98.68,160.07 98.91,160.08 99.15,160.08 99.38,160.09 99.61,160.09 99.85,160.10 100.08,160.10 100.32,160.11 100.55,160.11 100.78,160.11 101.02,160.12 101.25,160.12 101.49,160.13 101.72,160.13 101.96,160.14 102.19,160.15 102.42,160.15 102.66,160.16 102.89,160.16 103.13,160.17 103.36,160.17 103.60,160.18 103.83,160.18 104.06,160.19 104.30,160.19 104.53,160.20 104.77,160.20 105.00,160.21 105.24,160.21 105.47,160.22 105.70,160.22 105.94,160.23 106.17,160.24 106.41,160.24 106.64,160.25 106.88,160.25 107.11,160.26 107.34,160.26 107.58,160.27 107.81,160.28 108.05,160.28 108.28,160.29 108.52,160.29 108.75,160.30 108.98,160.30 109.22,160.31 109.45,160.32 109.69,160.32 109.92,160.33 110.15,160.33 110.39,160.34 110.62,160.35 110.86,160.35 111.09,160.36 111.33,160.37 111.56,160.37 111.79,160.38 112.03,160.38 112.26,160.39 112.50,160.40 112.73,160.40 112.97,160.41 113.20,160.42" fill="none" stroke="#ff1010" stroke-width="1.35" stroke-linejoin="round"/></g>
<g font-family='"Liberation Sans", sans-serif'><path d="M150.20 143.20 V236.50 H243.20" fill="none" stroke="#c4c4c4" stroke-width="1"/><path d="M150.20 236.50 v-1.00 M168.80 236.50 v-1.00 M187.40 236.50 v-1.00 M206.00 236.50 v-1.00 M224.60 236.50 v-1.00 M243.20 236.50 v-1.00 M150.20 236.50 h1.00 M150.20 217.84 h1.00 M150.20 199.18 h1.00 M150.20 180.52 h1.00 M150.20 161.86 h1.00 M150.20 143.20 h1.00" fill="none" stroke="#9a9a9a" stroke-width="0.6"/><text x="150.20" y="244.00" font-size="5.60" text-anchor="middle" fill="#5a5a5a" stroke="#5a5a5a" stroke-width="0.18">0</text><text x="168.80" y="244.00" font-size="5.60" text-anchor="middle" fill="#5a5a5a" stroke="#5a5a5a" stroke-width="0.18"> 0</text><path transform="matrix(0.00273 0 0 -0.00273 165.686 244.000)" d="M583 0V1237L265 1010V1180L598 1409H764V0Z" fill="#5a5a5a" stroke="#5a5a5a" stroke-width="0.18" vector-effect="non-scaling-stroke"/><text x="187.40" y="244.00" font-size="5.60" text-anchor="middle" fill="#5a5a5a" stroke="#5a5a5a" stroke-width="0.18">20</text><text x="206.00" y="244.00" font-size="5.60" text-anchor="middle" fill="#5a5a5a" stroke="#5a5a5a" stroke-width="0.18">30</text><text x="224.60" y="244.00" font-size="5.60" text-anchor="middle" fill="#5a5a5a" stroke="#5a5a5a" stroke-width="0.18">40</text><text x="243.20" y="244.00" font-size="5.60" text-anchor="middle" fill="#5a5a5a" stroke="#5a5a5a" stroke-width="0.18">50</text><text x="148.20" y="239.00" font-size="5.60" text-anchor="end" fill="#5a5a5a" stroke="#5a5a5a" stroke-width="0.18">0</text><text x="148.20" y="220.00" font-size="5.60" text-anchor="end" fill="#5a5a5a" stroke="#5a5a5a" stroke-width="0.18">0.2</text><text x="148.20" y="201.00" font-size="5.60" text-anchor="end" fill="#5a5a5a" stroke="#5a5a5a" stroke-width="0.18">0.4</text><text x="148.20" y="183.00" font-size="5.60" text-anchor="end" fill="#5a5a5a" stroke="#5a5a5a" stroke-width="0.18">0.6</text><text x="148.20" y="164.00" font-size="5.60" text-anchor="end" fill="#5a5a5a" stroke="#5a5a5a" stroke-width="0.18">0.8</text><text x="148.20" y="145.00" font-size="5.60" text-anchor="end" fill="#5a5a5a" stroke="#5a5a5a" stroke-width="0.18"> </text><path transform="matrix(0.00273 0 0 -0.00273 145.086 145.000)" d="M583 0V1237L265 1010V1180L598 1409H764V0Z" fill="#5a5a5a" stroke="#5a5a5a" stroke-width="0.18" vector-effect="non-scaling-stroke"/><text x="196.30" y="249.70" font-size="6.90" text-anchor="middle" fill="#3a3a3a" stroke="#3a3a3a" stroke-width="0.22">distance</text><text transform="translate(138.50 189.60) rotate(-90)" font-size="6.80" text-anchor="middle" fill="#3a3a3a" stroke="#3a3a3a" stroke-width="0.22">semivariance</text><text x="196.90" y="140.00" font-size="9.30" text-anchor="middle" fill="#111" stroke="#111" stroke-width="0.18">Band 5</text><path d="M149.10 236.50h2.20M150.20 235.40v2.20M150.96 214.29h2.20M152.06 213.19v2.20M152.82 197.41h2.20M153.92 196.31v2.20M154.68 185.21h2.20M155.78 184.11v2.20M156.54 176.85h2.20M157.64 175.75v2.20M158.40 171.66h2.20M159.50 170.56v2.20M160.26 169.34h2.20M161.36 168.24v2.20M162.12 167.65h2.20M163.22 166.55v2.20M163.98 166.27h2.20M165.08 165.17v2.20M165.84 165.22h2.20M166.94 164.12v2.20M167.70 164.34h2.20M168.80 163.24v2.20M169.56 163.54h2.20M170.66 162.44v2.20M171.42 162.88h2.20M172.52 161.78v2.20M173.28 162.28h2.20M174.38 161.18v2.20M175.14 161.76h2.20M176.24 160.66v2.20M177.00 161.34h2.20M178.10 160.24v2.20M178.86 160.97h2.20M179.96 159.87v2.20M180.72 160.71h2.20M181.82 159.61v2.20M182.58 160.42h2.20M183.68 159.32v2.20M184.44 159.93h2.20M185.54 158.83v2.20M186.30 159.36h2.20M187.40 158.26v2.20M188.16 158.76h2.20M189.26 157.66v2.20M190.02 158.15h2.20M191.12 157.05v2.20M191.88 157.52h2.20M192.98 156.42v2.20M193.74 156.80h2.20M194.84 155.70v2.20M195.60 156.02h2.20M196.70 154.92v2.20M197.46 155.25h2.20M198.56 154.15v2.20M199.32 154.59h2.20M200.42 153.49v2.20M201.18 154.02h2.20M202.28 152.92v2.20M203.04 153.46h2.20M204.14 152.36v2.20M204.90 152.97h2.20M206.00 151.87v2.20M206.76 152.62h2.20M207.86 151.52v2.20M208.62 152.49h2.20M209.72 151.39v2.20M210.48 152.70h2.20M211.58 151.60v2.20M212.34 153.11h2.20M213.44 152.01v2.20M214.20 153.58h2.20M215.30 152.48v2.20M216.06 154.00h2.20M217.16 152.90v2.20M217.92 154.51h2.20M219.02 153.41v2.20M219.78 155.05h2.20M220.88 153.95v2.20M221.64 155.49h2.20M222.74 154.39v2.20M223.50 155.73h2.20M224.60 154.63v2.20M225.36 155.87h2.20M226.46 154.77v2.20M227.22 155.91h2.20M228.32 154.81v2.20M229.08 155.70h2.20M230.18 154.60v2.20M230.94 155.02h2.20M232.04 153.92v2.20M232.80 154.10h2.20M233.90 153.00v2.20M234.66 153.21h2.20M235.76 152.11v2.20M236.52 152.27h2.20M237.62 151.17v2.20M238.38 151.25h2.20M239.48 150.15v2.20M240.24 150.20h2.20M241.34 149.10v2.20M242.10 149.08h2.20M243.20 147.98v2.20" fill="none" stroke="#4040ff" stroke-width="0.9"/><polyline points="150.20,236.50 150.43,233.43 150.66,230.43 150.90,227.52 151.13,224.69 151.36,221.95 151.59,219.30 151.83,216.74 152.06,214.29 152.29,211.93 152.52,209.63 152.76,207.41 152.99,205.25 153.22,203.17 153.45,201.17 153.69,199.25 153.92,197.41 154.15,195.64 154.38,193.93 154.62,192.29 154.85,190.72 155.08,189.22 155.31,187.81 155.55,186.47 155.78,185.21 156.01,184.02 156.24,182.88 156.48,181.79 156.71,180.74 156.94,179.73 157.17,178.73 157.41,177.77 157.64,176.85 157.87,176.00 158.10,175.21 158.34,174.50 158.57,173.82 158.80,173.19 159.03,172.60 159.27,172.09 159.50,171.66 159.73,171.29 159.96,170.97 160.20,170.69 160.43,170.44 160.66,170.21 160.89,170.01 161.13,169.83 161.36,169.66 161.59,169.51 161.82,169.35 162.06,169.20 162.29,169.04 162.52,168.88 162.75,168.72 162.99,168.56 163.22,168.40 163.45,168.24 163.69,168.08 163.92,167.93 164.15,167.77 164.38,167.62 164.61,167.48 164.85,167.34 165.08,167.20 165.31,167.07 165.54,166.94 165.78,166.82 166.01,166.71 166.24,166.60 166.47,166.49 166.71,166.39 166.94,166.28 167.17,166.18 167.41,166.08 167.64,165.98 167.87,165.88 168.10,165.78 168.33,165.68 168.57,165.57 168.80,165.46 169.03,165.35 169.26,165.24 169.50,165.14 169.73,165.03 169.96,164.92 170.19,164.81 170.43,164.70 170.66,164.60 170.89,164.49 171.12,164.39 171.36,164.29 171.59,164.19 171.82,164.09 172.05,163.99 172.29,163.89 172.52,163.79 172.75,163.70 172.98,163.60 173.22,163.50 173.45,163.41 173.68,163.31 173.91,163.22 174.15,163.12 174.38,163.03 174.61,162.94 174.84,162.85 175.08,162.75 175.31,162.66 175.54,162.57 175.77,162.48 176.01,162.39 176.24,162.31 176.47,162.22 176.70,162.13 176.94,162.04 177.17,161.96 177.40,161.87 177.63,161.79 177.87,161.71 178.10,161.63 178.33,161.54 178.56,161.46 178.80,161.38 179.03,161.30 179.26,161.22 179.50,161.14 179.73,161.06 179.96,160.97 180.19,160.89 180.42,160.81 180.66,160.73 180.89,160.65 181.12,160.56 181.35,160.48 181.59,160.40 181.82,160.31 182.05,160.22 182.28,160.13 182.52,160.04 182.75,159.95 182.98,159.86 183.21,159.77 183.45,159.69 183.68,159.60 183.91,159.51 184.14,159.43 184.38,159.35 184.61,159.28 184.84,159.20 185.07,159.13 185.31,159.07 185.54,159.00 185.77,158.93 186.00,158.87 186.24,158.81 186.47,158.75 186.70,158.69 186.94,158.63 187.17,158.57 187.40,158.52 187.63,158.46 187.86,158.41 188.10,158.35 188.33,158.30 188.56,158.25 188.79,158.19 189.03,158.14 189.26,158.09 189.49,158.04 189.72,157.99 189.96,157.94 190.19,157.89 190.42,157.84 190.66,157.78 190.89,157.73 191.12,157.68 191.35,157.63 191.58,157.58 191.82,157.53 192.05,157.47 192.28,157.42 192.51,157.37 192.75,157.31 192.98,157.26 193.21,157.20 193.44,157.14 193.68,157.09 193.91,157.03 194.14,156.97 194.38,156.91 194.61,156.85 194.84,156.79 195.07,156.72 195.31,156.66 195.54,156.60 195.77,156.54 196.00,156.48 196.23,156.42 196.47,156.36 196.70,156.30 196.93,156.24 197.16,156.18 197.40,156.12 197.63,156.06 197.86,156.00 198.09,155.95 198.33,155.89 198.56,155.84 198.79,155.79 199.02,155.74 199.26,155.69 199.49,155.64 199.72,155.59 199.95,155.55 200.19,155.51 200.42,155.47 200.65,155.43 200.88,155.39 201.12,155.36 201.35,155.32 201.58,155.29 201.81,155.25 202.05,155.22 202.28,155.19 202.51,155.16 202.75,155.13 202.98,155.10 203.21,155.07 203.44,155.04 203.67,155.01 203.91,154.98 204.14,154.95 204.37,154.93 204.60,154.90 204.84,154.87 205.07,154.85 205.30,154.82 205.53,154.80 205.77,154.77 206.00,154.75 206.23,154.72 206.46,154.70 206.70,154.67 206.93,154.65 207.16,154.63 207.39,154.60 207.63,154.58 207.86,154.56 208.09,154.54 208.32,154.51 208.56,154.49 208.79,154.47 209.02,154.45 209.25,154.42 209.49,154.40 209.72,154.38 209.95,154.36 210.19,154.34 210.42,154.31 210.65,154.29 210.88,154.27 211.12,154.25 211.35,154.23 211.58,154.21 211.81,154.19 212.04,154.17 212.28,154.15 212.51,154.13 212.74,154.11 212.97,154.10 213.21,154.08 213.44,154.06 213.67,154.04 213.91,154.02 214.14,154.00 214.37,153.99 214.60,153.97 214.83,153.95 215.07,153.93 215.30,153.92 215.53,153.90 215.76,153.88 216.00,153.87 216.23,153.85 216.46,153.83 216.69,153.82 216.93,153.80 217.16,153.79 217.39,153.77 217.62,153.76 217.86,153.74 218.09,153.73 218.32,153.71 218.56,153.70 218.79,153.68 219.02,153.67 219.25,153.66 219.48,153.64 219.72,153.63 219.95,153.62 220.18,153.60 220.41,153.59 220.65,153.58 220.88,153.56 221.11,153.55 221.34,153.54 221.58,153.52 221.81,153.51 222.04,153.50 222.27,153.48 222.51,153.47 222.74,153.46 222.97,153.44 223.20,153.43 223.44,153.42 223.67,153.40 223.90,153.39 224.13,153.38 224.37,153.36 224.60,153.35 224.83,153.34 225.06,153.32 225.30,153.31 225.53,153.29 225.76,153.28 226.00,153.27 226.23,153.25 226.46,153.24 226.69,153.23 226.93,153.21 227.16,153.20 227.39,153.18 227.62,153.17 227.85,153.16 228.09,153.14 228.32,153.13 228.55,153.11 228.78,153.10 229.02,153.09 229.25,153.07 229.48,153.06 229.71,153.05 229.95,153.03 230.18,153.02 230.41,153.00 230.64,152.99 230.88,152.98 231.11,152.96 231.34,152.95 231.57,152.94 231.81,152.92 232.04,152.91 232.27,152.89 232.50,152.88 232.74,152.87 232.97,152.85 233.20,152.84 233.44,152.82 233.67,152.81 233.90,152.80 234.13,152.78 234.37,152.77 234.60,152.76 234.83,152.74 235.06,152.73 235.29,152.71 235.53,152.70 235.76,152.69 235.99,152.67 236.22,152.66 236.46,152.64 236.69,152.63 236.92,152.62 237.15,152.60 237.39,152.59 237.62,152.58 237.85,152.56 238.08,152.55 238.32,152.53 238.55,152.52 238.78,152.51 239.01,152.49 239.25,152.48 239.48,152.47 239.71,152.45 239.94,152.44 240.18,152.43 240.41,152.41 240.64,152.40 240.88,152.39 241.11,152.37 241.34,152.36 241.57,152.34 241.81,152.33 242.04,152.32 242.27,152.30 242.50,152.29 242.74,152.28 242.97,152.26 243.20,152.25" fill="none" stroke="#ff1010" stroke-width="1.35" stroke-linejoin="round"/></g>
<g font-family='"Liberation Sans", sans-serif'><path d="M273.50 139.30 V238.30 H372.30" fill="none" stroke="#c4c4c4" stroke-width="1"/><path d="M273.50 238.30 v-1.00 M293.26 238.30 v-1.00 M313.02 238.30 v-1.00 M332.78 238.30 v-1.00 M352.54 238.30 v-1.00 M372.30 238.30 v-1.00 M273.50 238.30 h1.00 M273.50 218.50 h1.00 M273.50 198.70 h1.00 M273.50 178.90 h1.00 M273.50 159.10 h1.00 M273.50 139.30 h1.00" fill="none" stroke="#9a9a9a" stroke-width="0.6"/><text x="273.50" y="246.00" font-size="5.90" text-anchor="middle" fill="#5a5a5a" stroke="#5a5a5a" stroke-width="0.18">0</text><text x="293.26" y="246.00" font-size="5.90" text-anchor="middle" fill="#5a5a5a" stroke="#5a5a5a" stroke-width="0.18"> 0</text><path transform="matrix(0.00288 0 0 -0.00288 289.979 246.000)" d="M583 0V1237L265 1010V1180L598 1409H764V0Z" fill="#5a5a5a" stroke="#5a5a5a" stroke-width="0.18" vector-effect="non-scaling-stroke"/><text x="313.02" y="246.00" font-size="5.90" text-anchor="middle" fill="#5a5a5a" stroke="#5a5a5a" stroke-width="0.18">20</text><text x="332.78" y="246.00" font-size="5.90" text-anchor="middle" fill="#5a5a5a" stroke="#5a5a5a" stroke-width="0.18">30</text><text x="352.54" y="246.00" font-size="5.90" text-anchor="middle" fill="#5a5a5a" stroke="#5a5a5a" stroke-width="0.18">40</text><text x="372.30" y="246.00" font-size="5.90" text-anchor="middle" fill="#5a5a5a" stroke="#5a5a5a" stroke-width="0.18">50</text><text x="271.60" y="240.00" font-size="5.90" text-anchor="end" fill="#5a5a5a" stroke="#5a5a5a" stroke-width="0.18">0</text><text x="271.60" y="221.00" font-size="5.90" text-anchor="end" fill="#5a5a5a" stroke="#5a5a5a" stroke-width="0.18">0.2</text><text x="271.60" y="201.00" font-size="5.90" text-anchor="end" fill="#5a5a5a" stroke="#5a5a5a" stroke-width="0.18">0.4</text><text x="271.60" y="181.00" font-size="5.90" text-anchor="end" fill="#5a5a5a" stroke="#5a5a5a" stroke-width="0.18">0.6</text><text x="271.60" y="161.00" font-size="5.90" text-anchor="end" fill="#5a5a5a" stroke="#5a5a5a" stroke-width="0.18">0.8</text><text x="271.60" y="141.00" font-size="5.90" text-anchor="end" fill="#5a5a5a" stroke="#5a5a5a" stroke-width="0.18"> </text><path transform="matrix(0.00288 0 0 -0.00288 268.319 141.000)" d="M583 0V1237L265 1010V1180L598 1409H764V0Z" fill="#5a5a5a" stroke="#5a5a5a" stroke-width="0.18" vector-effect="non-scaling-stroke"/><text x="322.70" y="250.70" font-size="6.90" text-anchor="middle" fill="#3a3a3a" stroke="#3a3a3a" stroke-width="0.22">distance</text><text transform="translate(262.50 189.30) rotate(-90)" font-size="6.90" text-anchor="middle" fill="#3a3a3a" stroke="#3a3a3a" stroke-width="0.22">semivariance</text><text x="320.40" y="139.00" font-size="9.30" text-anchor="middle" fill="#111" stroke="#111" stroke-width="0.18">Band 6</text><path d="M272.40 238.30h2.20M273.50 237.20v2.20M274.38 177.97h2.20M275.48 176.87v2.20M276.35 167.18h2.20M277.45 166.08v2.20M278.33 158.98h2.20M279.43 157.88v2.20M280.30 153.70h2.20M281.40 152.60v2.20M282.28 150.25h2.20M283.38 149.15v2.20M284.26 147.85h2.20M285.36 146.75v2.20M286.23 146.11h2.20M287.33 145.01v2.20M288.21 144.75h2.20M289.31 143.65v2.20M290.18 143.69h2.20M291.28 142.59v2.20M292.16 143.09h2.20M293.26 141.99v2.20M294.14 142.61h2.20M295.24 141.51v2.20M296.11 142.02h2.20M297.21 140.92v2.20M298.09 142.06h2.20M299.19 140.96v2.20M300.06 142.54h2.20M301.16 141.44v2.20M302.04 142.64h2.20M303.14 141.54v2.20M304.02 142.72h2.20M305.12 141.62v2.20M305.99 142.76h2.20M307.09 141.66v2.20M307.97 142.75h2.20M309.07 141.65v2.20M309.94 142.69h2.20M311.04 141.59v2.20M311.92 142.60h2.20M313.02 141.50v2.20M313.90 142.46h2.20M315.00 141.36v2.20M315.87 142.31h2.20M316.97 141.21v2.20M317.85 142.01h2.20M318.95 140.91v2.20M319.82 141.57h2.20M320.92 140.47v2.20M321.80 141.19h2.20M322.90 140.09v2.20M323.78 140.92h2.20M324.88 139.82v2.20M325.75 140.67h2.20M326.85 139.57v2.20M327.73 140.47h2.20M328.83 139.37v2.20M329.70 140.34h2.20M330.80 139.24v2.20M331.68 140.29h2.20M332.78 139.19v2.20M333.66 140.29h2.20M334.76 139.19v2.20M335.63 140.29h2.20M336.73 139.19v2.20M337.61 140.29h2.20M338.71 139.19v2.20M339.58 140.29h2.20M340.68 139.19v2.20M341.56 140.29h2.20M342.66 139.19v2.20M343.54 140.29h2.20M344.64 139.19v2.20M345.51 140.29h2.20M346.61 139.19v2.20M347.49 140.29h2.20M348.59 139.19v2.20M349.46 140.32h2.20M350.56 139.22v2.20M351.44 140.42h2.20M352.54 139.32v2.20M353.42 140.55h2.20M354.52 139.45v2.20M355.39 140.71h2.20M356.49 139.61v2.20M357.37 141.01h2.20M358.47 139.91v2.20M359.34 141.38h2.20M360.44 140.28v2.20M361.32 141.58h2.20M362.42 140.48v2.20M363.30 141.53h2.20M364.40 140.43v2.20M365.27 141.42h2.20M366.37 140.32v2.20M367.25 141.00h2.20M368.35 139.90v2.20M369.22 140.66h2.20M370.32 139.56v2.20M371.20 140.69h2.20M372.30 139.59v2.20" fill="none" stroke="#4040ff" stroke-width="0.9"/><polyline points="273.50,238.30 273.75,225.61 273.99,213.33 274.24,202.20 274.49,192.94 274.74,186.29 274.98,182.70 275.23,180.14 275.48,177.97 275.72,176.14 275.97,174.57 276.22,173.21 276.46,171.98 276.71,170.82 276.96,169.68 277.20,168.48 277.45,167.18 277.70,165.91 277.95,164.69 278.19,163.55 278.44,162.49 278.69,161.54 278.93,160.65 279.18,159.80 279.43,158.98 279.68,158.19 279.92,157.44 280.17,156.72 280.42,156.04 280.66,155.40 280.91,154.79 281.16,154.23 281.40,153.70 281.65,153.20 281.90,152.72 282.14,152.26 282.39,151.82 282.64,151.40 282.89,151.00 283.13,150.62 283.38,150.25 283.63,149.90 283.87,149.56 284.12,149.24 284.37,148.94 284.62,148.65 284.86,148.37 285.11,148.10 285.36,147.85 285.60,147.60 285.85,147.36 286.10,147.13 286.34,146.91 286.59,146.70 286.84,146.50 287.08,146.30 287.33,146.11 287.58,145.93 287.83,145.75 288.07,145.57 288.32,145.40 288.57,145.23 288.81,145.07 289.06,144.90 289.31,144.75 289.56,144.59 289.80,144.44 290.05,144.30 290.30,144.17 290.54,144.04 290.79,143.91 291.04,143.80 291.28,143.69 291.53,143.60 291.78,143.51 292.02,143.43 292.27,143.35 292.52,143.28 292.77,143.21 293.01,143.15 293.26,143.09 293.51,143.03 293.75,142.97 294.00,142.91 294.25,142.85 294.50,142.80 294.74,142.74 294.99,142.68 295.24,142.61 295.48,142.55 295.73,142.48 295.98,142.40 296.22,142.33 296.47,142.25 296.72,142.17 296.97,142.10 297.21,142.02 297.46,141.95 297.71,141.88 297.95,141.82 298.20,141.76 298.45,141.71 298.69,141.66 298.94,141.63 299.19,141.60 299.44,141.58 299.68,141.57 299.93,141.57 300.18,141.56 300.42,141.56 300.67,141.55 300.92,141.55 301.16,141.55 301.41,141.54 301.66,141.54 301.90,141.54 302.15,141.53 302.40,141.53 302.65,141.53 302.89,141.52 303.14,141.52 303.39,141.52 303.63,141.52 303.88,141.52 304.13,141.51 304.38,141.51 304.62,141.51 304.87,141.51 305.12,141.51 305.36,141.51 305.61,141.50 305.86,141.50 306.10,141.50 306.35,141.50 306.60,141.49 306.85,141.49 307.09,141.49 307.34,141.49 307.59,141.48 307.83,141.48 308.08,141.48 308.33,141.47 308.57,141.47 308.82,141.47 309.07,141.46 309.31,141.46 309.56,141.46 309.81,141.45 310.06,141.45 310.30,141.44 310.55,141.44 310.80,141.43 311.04,141.43 311.29,141.43 311.54,141.42 311.79,141.42 312.03,141.41 312.28,141.41 312.53,141.40 312.77,141.40 313.02,141.39 313.27,141.39 313.51,141.38 313.76,141.38 314.01,141.38 314.25,141.37 314.50,141.37 314.75,141.36 315.00,141.36 315.24,141.35 315.49,141.35 315.74,141.34 315.98,141.34 316.23,141.33 316.48,141.33 316.73,141.32 316.97,141.32 317.22,141.31 317.47,141.31 317.71,141.30 317.96,141.30 318.21,141.29 318.45,141.29 318.70,141.28 318.95,141.28 319.19,141.28 319.44,141.27 319.69,141.27 319.94,141.26 320.18,141.26 320.43,141.25 320.68,141.24 320.92,141.24 321.17,141.23 321.42,141.23 321.67,141.22 321.91,141.22 322.16,141.21 322.41,141.20 322.65,141.20 322.90,141.19 323.15,141.19 323.39,141.18 323.64,141.17 323.89,141.17 324.13,141.16 324.38,141.16 324.63,141.15 324.88,141.15 325.12,141.14 325.37,141.13 325.62,141.13 325.86,141.12 326.11,141.12 326.36,141.12 326.61,141.11 326.85,141.11 327.10,141.10 327.35,141.10 327.59,141.10 327.84,141.09 328.09,141.09 328.33,141.09 328.58,141.09 328.83,141.09 329.07,141.08 329.32,141.08 329.57,141.08 329.82,141.08 330.06,141.08 330.31,141.08 330.56,141.08 330.80,141.08 331.05,141.08 331.30,141.08 331.55,141.08 331.79,141.08 332.04,141.08 332.29,141.08 332.53,141.08 332.78,141.08 333.03,141.08 333.27,141.08 333.52,141.08 333.77,141.08 334.01,141.08 334.26,141.08 334.51,141.08 334.76,141.08 335.00,141.08 335.25,141.08 335.50,141.08 335.74,141.08 335.99,141.08 336.24,141.08 336.49,141.08 336.73,141.08 336.98,141.08 337.23,141.08 337.47,141.08 337.72,141.08 337.97,141.08 338.21,141.08 338.46,141.08 338.71,141.08 338.96,141.08 339.20,141.08 339.45,141.08 339.70,141.08 339.94,141.08 340.19,141.08 340.44,141.08 340.68,141.08 340.93,141.08 341.18,141.08 341.43,141.08 341.67,141.08 341.92,141.08 342.17,141.08 342.41,141.08 342.66,141.08 342.91,141.08 343.15,141.08 343.40,141.08 343.65,141.08 343.89,141.08 344.14,141.08 344.39,141.08 344.64,141.08 344.88,141.08 345.13,141.08 345.38,141.08 345.62,141.08 345.87,141.08 346.12,141.08 346.37,141.08 346.61,141.08 346.86,141.08 347.11,141.08 347.35,141.08 347.60,141.08 347.85,141.08 348.09,141.08 348.34,141.08 348.59,141.08 348.84,141.08 349.08,141.08 349.33,141.08 349.58,141.08 349.82,141.08 350.07,141.08 350.32,141.08 350.56,141.08 350.81,141.08 351.06,141.08 351.31,141.08 351.55,141.08 351.80,141.08 352.05,141.08 352.29,141.08 352.54,141.08 352.79,141.08 353.03,141.08 353.28,141.09 353.53,141.09 353.77,141.09 354.02,141.09 354.27,141.09 354.52,141.09 354.76,141.09 355.01,141.10 355.26,141.10 355.50,141.10 355.75,141.10 356.00,141.11 356.25,141.11 356.49,141.11 356.74,141.11 356.99,141.12 357.23,141.12 357.48,141.12 357.73,141.12 357.97,141.13 358.22,141.13 358.47,141.13 358.72,141.14 358.96,141.14 359.21,141.14 359.46,141.15 359.70,141.15 359.95,141.15 360.20,141.15 360.44,141.16 360.69,141.16 360.94,141.16 361.19,141.17 361.43,141.17 361.68,141.17 361.93,141.17 362.17,141.18 362.42,141.18 362.67,141.18 362.91,141.18 363.16,141.19 363.41,141.19 363.66,141.19 363.90,141.19 364.15,141.20 364.40,141.20 364.64,141.20 364.89,141.20 365.14,141.21 365.38,141.21 365.63,141.21 365.88,141.21 366.12,141.22 366.37,141.22 366.62,141.22 366.87,141.22 367.11,141.23 367.36,141.23 367.61,141.23 367.85,141.23 368.10,141.24 368.35,141.24 368.60,141.24 368.84,141.24 369.09,141.25 369.34,141.25 369.58,141.25 369.83,141.25 370.08,141.26 370.32,141.26 370.57,141.26 370.82,141.26 371.06,141.27 371.31,141.27 371.56,141.27 371.81,141.27 372.05,141.28 372.30,141.28" fill="none" stroke="#ff1010" stroke-width="1.35" stroke-linejoin="round"/></g>
<g font-family='"Liberation Sans", sans-serif'><path d="M19.90 296.30 V394.30 H117.30" fill="none" stroke="#c4c4c4" stroke-width="1"/><path d="M19.90 394.30 v-1.00 M39.38 394.30 v-1.00 M58.86 394.30 v-1.00 M78.34 394.30 v-1.00 M97.82 394.30 v-1.00 M117.30 394.30 v-1.00 M19.90 394.30 h1.00 M19.90 374.70 h1.00 M19.90 355.10 h1.00 M19.90 335.50 h1.00 M19.90 315.90 h1.00 M19.90 296.30 h1.00" fill="none" stroke="#9a9a9a" stroke-width="0.6"/><text x="19.90" y="402.00" font-size="6.20" text-anchor="middle" fill="#5a5a5a" stroke="#5a5a5a" stroke-width="0.18">0</text><text x="39.38" y="402.00" font-size="6.20" text-anchor="middle" fill="#5a5a5a" stroke="#5a5a5a" stroke-width="0.18"> 0</text><path transform="matrix(0.00303 0 0 -0.00303 35.932 402.000)" d="M583 0V1237L265 1010V1180L598 1409H764V0Z" fill="#5a5a5a" stroke="#5a5a5a" stroke-width="0.18" vector-effect="non-scaling-stroke"/><text x="58.86" y="402.00" font-size="6.20" text-anchor="middle" fill="#5a5a5a" stroke="#5a5a5a" stroke-width="0.18">20</text><text x="78.34" y="402.00" font-size="6.20" text-anchor="middle" fill="#5a5a5a" stroke="#5a5a5a" stroke-width="0.18">30</text><text x="97.82" y="402.00" font-size="6.20" text-anchor="middle" fill="#5a5a5a" stroke="#5a5a5a" stroke-width="0.18">40</text><text x="117.30" y="402.00" font-size="6.20" text-anchor="middle" fill="#5a5a5a" stroke="#5a5a5a" stroke-width="0.18">50</text><text x="18.20" y="397.00" font-size="6.20" text-anchor="end" fill="#5a5a5a" stroke="#5a5a5a" stroke-width="0.18">0</text><text x="18.20" y="377.00" font-size="6.20" text-anchor="end" fill="#5a5a5a" stroke="#5a5a5a" stroke-width="0.18">0.2</text><text x="18.20" y="357.00" font-size="6.20" text-anchor="end" fill="#5a5a5a" stroke="#5a5a5a" stroke-width="0.18">0.4</text><text x="18.20" y="338.00" font-size="6.20" text-anchor="end" fill="#5a5a5a" stroke="#5a5a5a" stroke-width="0.18">0.6</text><text x="18.20" y="318.00" font-size="6.20" text-anchor="end" fill="#5a5a5a" stroke="#5a5a5a" stroke-width="0.18">0.8</text><text x="18.20" y="299.00" font-size="6.20" text-anchor="end" fill="#5a5a5a" stroke="#5a5a5a" stroke-width="0.18"> </text><path transform="matrix(0.00303 0 0 -0.00303 14.752 299.000)" d="M583 0V1237L265 1010V1180L598 1409H764V0Z" fill="#5a5a5a" stroke="#5a5a5a" stroke-width="0.18" vector-effect="non-scaling-stroke"/><text x="68.80" y="411.10" font-size="7.50" text-anchor="middle" fill="#3a3a3a" stroke="#3a3a3a" stroke-width="0.22">distance</text><text transform="translate(7.00 343.30) rotate(-90)" font-size="7.10" text-anchor="middle" fill="#3a3a3a" stroke="#3a3a3a" stroke-width="0.22">semivariance</text><text x="68.80" y="293.00" font-size="9.70" text-anchor="middle" fill="#111" stroke="#111" stroke-width="0.18">Band  </text><path transform="matrix(0.00474 0 0 -0.00474 78.777 293.000)" d="M583 0V1237L265 1010V1180L598 1409H764V0Z" fill="#111" stroke="#111" stroke-width="0.18" vector-effect="non-scaling-stroke"/><path d="M18.80 394.30h2.20M19.90 393.20v2.20M20.75 381.11h2.20M21.85 380.01v2.20M22.70 365.80h2.20M23.80 364.70v2.20M24.64 352.27h2.20M25.74 351.17v2.20M26.59 343.25h2.20M27.69 342.15v2.20M28.54 337.77h2.20M29.64 336.67v2.20M30.49 333.69h2.20M31.59 332.59v2.20M32.44 330.38h2.20M33.54 329.28v2.20M34.38 327.61h2.20M35.48 326.51v2.20M36.33 325.16h2.20M37.43 324.06v2.20M38.28 322.76h2.20M39.38 321.66v2.20M40.23 320.55h2.20M41.33 319.45v2.20M42.18 318.64h2.20M43.28 317.54v2.20M44.12 316.93h2.20M45.22 315.83v2.20M46.07 315.44h2.20M47.17 314.34v2.20M48.02 314.17h2.20M49.12 313.07v2.20M49.97 313.02h2.20M51.07 311.92v2.20M51.92 311.90h2.20M53.02 310.80v2.20M53.86 310.80h2.20M54.96 309.70v2.20M55.81 309.79h2.20M56.91 308.69v2.20M57.76 308.92h2.20M58.86 307.82v2.20M59.71 308.12h2.20M60.81 307.02v2.20M61.66 307.37h2.20M62.76 306.27v2.20M63.60 306.62h2.20M64.70 305.52v2.20M65.55 305.92h2.20M66.65 304.82v2.20M67.50 305.39h2.20M68.60 304.29v2.20M69.45 304.94h2.20M70.55 303.84v2.20M71.40 304.57h2.20M72.50 303.47v2.20M73.34 304.31h2.20M74.44 303.21v2.20M75.29 304.14h2.20M76.39 303.04v2.20M77.24 304.00h2.20M78.34 302.90v2.20M79.19 303.81h2.20M80.29 302.71v2.20M81.14 303.53h2.20M82.24 302.43v2.20M83.08 303.22h2.20M84.18 302.12v2.20M85.03 302.93h2.20M86.13 301.83v2.20M86.98 302.64h2.20M88.08 301.54v2.20M88.93 302.33h2.20M90.03 301.23v2.20M90.88 302.04h2.20M91.98 300.94v2.20M92.82 301.79h2.20M93.92 300.69v2.20M94.77 301.65h2.20M95.87 300.55v2.20M96.72 301.72h2.20M97.82 300.62v2.20M98.67 301.88h2.20M99.77 300.78v2.20M100.62 301.99h2.20M101.72 300.89v2.20M102.56 302.11h2.20M103.66 301.01v2.20M104.51 302.32h2.20M105.61 301.22v2.20M106.46 302.72h2.20M107.56 301.62v2.20M108.41 303.47h2.20M109.51 302.37v2.20M110.36 304.24h2.20M111.46 303.14v2.20M112.30 304.88h2.20M113.40 303.78v2.20M114.25 305.46h2.20M115.35 304.36v2.20M116.20 305.90h2.20M117.30 304.80v2.20" fill="none" stroke="#4040ff" stroke-width="0.9"/><polyline points="19.90,394.30 20.14,392.75 20.39,391.17 20.63,389.56 20.87,387.92 21.12,386.26 21.36,384.57 21.60,382.85 21.85,381.11 22.09,379.34 22.33,377.51 22.58,375.60 22.82,373.65 23.07,371.67 23.31,369.69 23.55,367.72 23.80,365.80 24.04,363.93 24.28,362.16 24.53,360.42 24.77,358.70 25.01,357.00 25.26,355.35 25.50,353.77 25.74,352.27 25.99,350.88 26.23,349.60 26.47,348.38 26.72,347.22 26.96,346.13 27.20,345.09 27.45,344.13 27.69,343.25 27.94,342.44 28.18,341.67 28.42,340.94 28.67,340.25 28.91,339.59 29.15,338.96 29.40,338.35 29.64,337.77 29.88,337.21 30.13,336.67 30.37,336.14 30.61,335.62 30.86,335.12 31.10,334.63 31.34,334.15 31.59,333.69 31.83,333.24 32.08,332.80 32.32,332.37 32.56,331.96 32.81,331.55 33.05,331.15 33.29,330.76 33.54,330.38 33.78,330.01 34.02,329.64 34.27,329.28 34.51,328.94 34.75,328.59 35.00,328.26 35.24,327.93 35.48,327.61 35.73,327.30 35.97,326.98 36.21,326.67 36.46,326.37 36.70,326.06 36.95,325.76 37.19,325.46 37.43,325.16 37.68,324.86 37.92,324.55 38.16,324.25 38.41,323.95 38.65,323.65 38.89,323.35 39.14,323.05 39.38,322.76 39.62,322.46 39.87,322.18 40.11,321.89 40.35,321.61 40.60,321.34 40.84,321.07 41.08,320.81 41.33,320.55 41.57,320.30 41.81,320.06 42.06,319.81 42.30,319.57 42.55,319.34 42.79,319.10 43.03,318.87 43.28,318.64 43.52,318.42 43.76,318.20 44.01,317.98 44.25,317.76 44.49,317.55 44.74,317.34 44.98,317.13 45.22,316.93 45.47,316.73 45.71,316.53 45.95,316.34 46.20,316.15 46.44,315.97 46.69,315.79 46.93,315.61 47.17,315.44 47.42,315.27 47.66,315.10 47.90,314.94 48.15,314.78 48.39,314.62 48.63,314.47 48.88,314.32 49.12,314.17 49.36,314.02 49.61,313.87 49.85,313.73 50.09,313.58 50.34,313.44 50.58,313.30 50.82,313.16 51.07,313.02 51.31,312.88 51.55,312.74 51.80,312.60 52.04,312.46 52.29,312.32 52.53,312.18 52.77,312.04 53.02,311.90 53.26,311.76 53.50,311.62 53.75,311.48 53.99,311.34 54.23,311.20 54.48,311.07 54.72,310.93 54.96,310.80 55.21,310.67 55.45,310.54 55.69,310.41 55.94,310.28 56.18,310.16 56.43,310.03 56.67,309.91 56.91,309.79 57.16,309.68 57.40,309.56 57.64,309.45 57.89,309.34 58.13,309.23 58.37,309.13 58.62,309.02 58.86,308.92 59.10,308.81 59.35,308.71 59.59,308.61 59.83,308.51 60.08,308.41 60.32,308.32 60.56,308.22 60.81,308.12 61.05,308.03 61.30,307.94 61.54,307.84 61.78,307.75 62.03,307.65 62.27,307.56 62.51,307.47 62.76,307.37 63.00,307.28 63.24,307.19 63.49,307.09 63.73,307.00 63.97,306.90 64.22,306.81 64.46,306.71 64.70,306.62 64.95,306.52 65.19,306.43 65.43,306.34 65.68,306.26 65.92,306.17 66.17,306.09 66.41,306.00 66.65,305.92 66.90,305.85 67.14,305.78 67.38,305.71 67.63,305.64 67.87,305.58 68.11,305.52 68.36,305.46 68.60,305.39 68.84,305.34 69.09,305.28 69.33,305.22 69.57,305.16 69.82,305.11 70.06,305.05 70.30,305.00 70.55,304.94 70.79,304.89 71.03,304.84 71.28,304.79 71.52,304.75 71.77,304.70 72.01,304.66 72.25,304.61 72.50,304.57 72.74,304.53 72.98,304.50 73.23,304.46 73.47,304.43 73.71,304.40 73.96,304.37 74.20,304.34 74.44,304.31 74.69,304.29 74.93,304.26 75.17,304.24 75.42,304.22 75.66,304.20 75.91,304.18 76.15,304.16 76.39,304.14 76.64,304.12 76.88,304.10 77.12,304.08 77.37,304.06 77.61,304.05 77.85,304.03 78.10,304.01 78.34,304.00 78.58,303.98 78.83,303.97 79.07,303.95 79.31,303.94 79.56,303.92 79.80,303.91 80.04,303.89 80.29,303.88 80.53,303.86 80.78,303.85 81.02,303.83 81.26,303.82 81.51,303.80 81.75,303.79 81.99,303.77 82.24,303.76 82.48,303.74 82.72,303.72 82.97,303.71 83.21,303.69 83.45,303.68 83.70,303.66 83.94,303.65 84.18,303.63 84.43,303.62 84.67,303.60 84.91,303.59 85.16,303.57 85.40,303.56 85.65,303.54 85.89,303.53 86.13,303.51 86.38,303.50 86.62,303.49 86.86,303.47 87.11,303.46 87.35,303.44 87.59,303.43 87.84,303.41 88.08,303.40 88.32,303.39 88.57,303.37 88.81,303.36 89.05,303.34 89.30,303.33 89.54,303.31 89.78,303.30 90.03,303.28 90.27,303.27 90.52,303.26 90.76,303.24 91.00,303.23 91.25,303.21 91.49,303.20 91.73,303.18 91.98,303.16 92.22,303.15 92.46,303.13 92.71,303.12 92.95,303.10 93.19,303.08 93.44,303.07 93.68,303.05 93.92,303.04 94.17,303.02 94.41,303.01 94.65,302.99 94.90,302.97 95.14,302.96 95.39,302.94 95.63,302.93 95.87,302.91 96.12,302.90 96.36,302.88 96.60,302.87 96.85,302.86 97.09,302.84 97.33,302.83 97.58,302.82 97.82,302.80 98.06,302.79 98.31,302.78 98.55,302.77 98.79,302.76 99.04,302.75 99.28,302.74 99.52,302.72 99.77,302.71 100.01,302.70 100.25,302.69 100.50,302.68 100.74,302.66 100.99,302.65 101.23,302.64 101.47,302.63 101.72,302.62 101.96,302.61 102.20,302.59 102.45,302.58 102.69,302.57 102.93,302.56 103.18,302.55 103.42,302.54 103.66,302.53 103.91,302.53 104.15,302.52 104.39,302.51 104.64,302.50 104.88,302.50 105.12,302.49 105.37,302.49 105.61,302.48 105.86,302.48 106.10,302.48 106.34,302.47 106.59,302.47 106.83,302.47 107.07,302.47 107.32,302.47 107.56,302.47 107.80,302.47 108.05,302.47 108.29,302.47 108.53,302.47 108.78,302.47 109.02,302.47 109.26,302.47 109.51,302.47 109.75,302.47 110.00,302.47 110.24,302.47 110.48,302.47 110.73,302.47 110.97,302.47 111.21,302.47 111.46,302.47 111.70,302.47 111.94,302.47 112.19,302.47 112.43,302.47 112.67,302.47 112.92,302.47 113.16,302.47 113.40,302.47 113.65,302.47 113.89,302.47 114.13,302.47 114.38,302.47 114.62,302.47 114.87,302.47 115.11,302.47 115.35,302.47 115.60,302.47 115.84,302.47 116.08,302.47 116.33,302.47 116.57,302.47 116.81,302.47 117.06,302.47 117.30,302.47" fill="none" stroke="#ff1010" stroke-width="1.35" stroke-linejoin="round"/></g>
<g font-family='"Liberation Sans", sans-serif'><path d="M151.20 296.40 V393.60 H248.60" fill="none" stroke="#c4c4c4" stroke-width="1"/><path d="M151.20 393.60 v-1.00 M170.68 393.60 v-1.00 M190.16 393.60 v-1.00 M209.64 393.60 v-1.00 M229.12 393.60 v-1.00 M248.60 393.60 v-1.00 M151.20 393.60 h1.00 M151.20 374.16 h1.00 M151.20 354.72 h1.00 M151.20 335.28 h1.00 M151.20 315.84 h1.00 M151.20 296.40 h1.00" fill="none" stroke="#9a9a9a" stroke-width="0.6"/><text x="151.20" y="402.00" font-size="6.10" text-anchor="middle" fill="#5a5a5a" stroke="#5a5a5a" stroke-width="0.18">0</text><text x="170.68" y="402.00" font-size="6.10" text-anchor="middle" fill="#5a5a5a" stroke="#5a5a5a" stroke-width="0.18"> 0</text><path transform="matrix(0.00298 0 0 -0.00298 167.287 402.000)" d="M583 0V1237L265 1010V1180L598 1409H764V0Z" fill="#5a5a5a" stroke="#5a5a5a" stroke-width="0.18" vector-effect="non-scaling-stroke"/><text x="190.16" y="402.00" font-size="6.10" text-anchor="middle" fill="#5a5a5a" stroke="#5a5a5a" stroke-width="0.18">20</text><text x="209.64" y="402.00" font-size="6.10" text-anchor="middle" fill="#5a5a5a" stroke="#5a5a5a" stroke-width="0.18">30</text><text x="229.12" y="402.00" font-size="6.10" text-anchor="middle" fill="#5a5a5a" stroke="#5a5a5a" stroke-width="0.18">40</text><text x="248.60" y="402.00" font-size="6.10" text-anchor="middle" fill="#5a5a5a" stroke="#5a5a5a" stroke-width="0.18">50</text><text x="149.10" y="396.00" font-size="6.10" text-anchor="end" fill="#5a5a5a" stroke="#5a5a5a" stroke-width="0.18">0</text><text x="149.10" y="376.00" font-size="6.10" text-anchor="end" fill="#5a5a5a" stroke="#5a5a5a" stroke-width="0.18">0.2</text><text x="149.10" y="357.00" font-size="6.10" text-anchor="end" fill="#5a5a5a" stroke="#5a5a5a" stroke-width="0.18">0.4</text><text x="149.10" y="337.00" font-size="6.10" text-anchor="end" fill="#5a5a5a" stroke="#5a5a5a" stroke-width="0.18">0.6</text><text x="149.10" y="318.00" font-size="6.10" text-anchor="end" fill="#5a5a5a" stroke="#5a5a5a" stroke-width="0.18">0.8</text><text x="149.10" y="299.00" font-size="6.10" text-anchor="end" fill="#5a5a5a" stroke="#5a5a5a" stroke-width="0.18"> </text><path transform="matrix(0.00298 0 0 -0.00298 145.707 299.000)" d="M583 0V1237L265 1010V1180L598 1409H764V0Z" fill="#5a5a5a" stroke="#5a5a5a" stroke-width="0.18" vector-effect="non-scaling-stroke"/><text x="199.50" y="410.60" font-size="7.50" text-anchor="middle" fill="#3a3a3a" stroke="#3a3a3a" stroke-width="0.22">distance</text><text transform="translate(138.50 344.70) rotate(-90)" font-size="7.30" text-anchor="middle" fill="#3a3a3a" stroke="#3a3a3a" stroke-width="0.22">semivariance</text><text x="199.70" y="293.00" font-size="10.00" text-anchor="middle" fill="#111" stroke="#111" stroke-width="0.18">Band 2</text><path d="M150.10 393.60h2.20M151.20 392.50v2.20M152.05 379.40h2.20M153.15 378.30v2.20M154.00 363.38h2.20M155.10 362.28v2.20M155.94 348.53h2.20M157.04 347.43v2.20M157.89 336.86h2.20M158.99 335.76v2.20M159.84 329.74h2.20M160.94 328.64v2.20M161.79 326.25h2.20M162.89 325.15v2.20M163.74 324.10h2.20M164.84 323.00v2.20M165.68 322.53h2.20M166.78 321.43v2.20M167.63 321.22h2.20M168.73 320.12v2.20M169.58 320.31h2.20M170.68 319.21v2.20M171.53 319.78h2.20M172.63 318.68v2.20M173.48 319.25h2.20M174.58 318.15v2.20M175.42 318.58h2.20M176.52 317.48v2.20M177.37 317.87h2.20M178.47 316.77v2.20M179.32 317.17h2.20M180.42 316.07v2.20M181.27 316.50h2.20M182.37 315.40v2.20M183.22 315.85h2.20M184.32 314.75v2.20M185.16 315.17h2.20M186.26 314.07v2.20M187.11 314.55h2.20M188.21 313.45v2.20M189.06 313.90h2.20M190.16 312.80v2.20M191.01 312.92h2.20M192.11 311.82v2.20M192.96 311.81h2.20M194.06 310.71v2.20M194.90 310.51h2.20M196.00 309.41v2.20M196.85 309.22h2.20M197.95 308.12v2.20M198.80 308.18h2.20M199.90 307.08v2.20M200.75 307.23h2.20M201.85 306.13v2.20M202.70 306.42h2.20M203.80 305.32v2.20M204.64 305.84h2.20M205.74 304.74v2.20M206.59 305.46h2.20M207.69 304.36v2.20M208.54 305.14h2.20M209.64 304.04v2.20M210.49 304.84h2.20M211.59 303.74v2.20M212.44 304.58h2.20M213.54 303.48v2.20M214.38 304.38h2.20M215.48 303.28v2.20M216.33 304.46h2.20M217.43 303.36v2.20M218.28 304.76h2.20M219.38 303.66v2.20M220.23 305.17h2.20M221.33 304.07v2.20M222.18 305.65h2.20M223.28 304.55v2.20M224.12 306.37h2.20M225.22 305.27v2.20M226.07 307.11h2.20M227.17 306.01v2.20M228.02 307.89h2.20M229.12 306.79v2.20M229.97 308.13h2.20M231.07 307.03v2.20M231.92 307.99h2.20M233.02 306.89v2.20M233.86 307.83h2.20M234.96 306.73v2.20M235.81 307.51h2.20M236.91 306.41v2.20M237.76 306.80h2.20M238.86 305.70v2.20M239.71 305.91h2.20M240.81 304.81v2.20M241.66 305.03h2.20M242.76 303.93v2.20M243.60 303.97h2.20M244.70 302.87v2.20M245.55 302.93h2.20M246.65 301.83v2.20M247.50 302.23h2.20M248.60 301.13v2.20" fill="none" stroke="#4040ff" stroke-width="0.9"/><polyline points="151.20,393.60 151.44,391.91 151.69,390.19 151.93,388.45 152.17,386.69 152.42,384.90 152.66,383.09 152.90,381.26 153.15,379.40 153.39,377.53 153.63,375.63 153.88,373.66 154.12,371.64 154.37,369.58 154.61,367.50 154.85,365.43 155.10,363.38 155.34,361.38 155.58,359.45 155.83,357.59 156.07,355.74 156.31,353.89 156.56,352.07 156.80,350.28 157.04,348.53 157.29,346.83 157.53,345.19 157.77,343.63 158.02,342.16 158.26,340.77 158.50,339.42 158.75,338.11 158.99,336.86 159.24,335.69 159.48,334.62 159.72,333.65 159.97,332.79 160.21,331.96 160.45,331.17 160.70,330.43 160.94,329.74 161.18,329.13 161.43,328.59 161.67,328.15 161.91,327.80 162.16,327.49 162.40,327.21 162.64,326.96 162.89,326.73 163.13,326.51 163.38,326.31 163.62,326.13 163.86,325.95 164.11,325.78 164.35,325.60 164.59,325.43 164.84,325.26 165.08,325.10 165.32,324.95 165.57,324.80 165.81,324.66 166.05,324.52 166.30,324.38 166.54,324.25 166.78,324.12 167.03,323.99 167.27,323.86 167.51,323.74 167.76,323.61 168.00,323.49 168.25,323.36 168.49,323.24 168.73,323.12 168.98,323.00 169.22,322.88 169.46,322.76 169.71,322.65 169.95,322.53 170.19,322.42 170.44,322.31 170.68,322.20 170.92,322.09 171.17,321.98 171.41,321.87 171.65,321.76 171.90,321.66 172.14,321.55 172.38,321.44 172.63,321.33 172.87,321.22 173.11,321.10 173.36,320.99 173.60,320.88 173.85,320.76 174.09,320.65 174.33,320.53 174.58,320.41 174.82,320.30 175.06,320.18 175.31,320.06 175.55,319.95 175.79,319.83 176.04,319.71 176.28,319.60 176.52,319.48 176.77,319.36 177.01,319.24 177.25,319.12 177.50,319.01 177.74,318.89 177.98,318.77 178.23,318.65 178.47,318.53 178.72,318.41 178.96,318.29 179.20,318.17 179.45,318.05 179.69,317.93 179.93,317.81 180.18,317.68 180.42,317.56 180.66,317.44 180.91,317.32 181.15,317.19 181.39,317.07 181.64,316.95 181.88,316.82 182.12,316.70 182.37,316.58 182.61,316.45 182.85,316.33 183.10,316.21 183.34,316.09 183.59,315.96 183.83,315.84 184.07,315.72 184.32,315.60 184.56,315.47 184.80,315.35 185.05,315.22 185.29,315.09 185.53,314.97 185.78,314.84 186.02,314.71 186.26,314.59 186.51,314.46 186.75,314.33 186.99,314.21 187.24,314.08 187.48,313.96 187.72,313.84 187.97,313.72 188.21,313.60 188.46,313.49 188.70,313.37 188.94,313.26 189.19,313.15 189.43,313.05 189.67,312.94 189.92,312.84 190.16,312.73 190.40,312.63 190.65,312.53 190.89,312.43 191.13,312.33 191.38,312.23 191.62,312.13 191.86,312.04 192.11,311.94 192.35,311.85 192.59,311.76 192.84,311.67 193.08,311.58 193.33,311.49 193.57,311.40 193.81,311.32 194.06,311.23 194.30,311.15 194.54,311.06 194.79,310.98 195.03,310.90 195.27,310.82 195.52,310.74 195.76,310.66 196.00,310.59 196.25,310.51 196.49,310.43 196.73,310.36 196.98,310.28 197.22,310.21 197.47,310.14 197.71,310.07 197.95,310.00 198.20,309.93 198.44,309.86 198.68,309.80 198.93,309.73 199.17,309.67 199.41,309.61 199.66,309.54 199.90,309.48 200.14,309.42 200.39,309.37 200.63,309.31 200.87,309.25 201.12,309.19 201.36,309.14 201.60,309.08 201.85,309.03 202.09,308.97 202.33,308.92 202.58,308.87 202.82,308.82 203.07,308.76 203.31,308.71 203.55,308.66 203.80,308.61 204.04,308.57 204.28,308.52 204.53,308.47 204.77,308.42 205.01,308.38 205.26,308.33 205.50,308.29 205.74,308.25 205.99,308.20 206.23,308.16 206.47,308.12 206.72,308.08 206.96,308.04 207.20,308.00 207.45,307.96 207.69,307.92 207.94,307.88 208.18,307.85 208.42,307.81 208.67,307.77 208.91,307.74 209.15,307.70 209.40,307.66 209.64,307.63 209.88,307.59 210.13,307.56 210.37,307.53 210.61,307.49 210.86,307.46 211.10,307.42 211.34,307.39 211.59,307.36 211.83,307.33 212.07,307.29 212.32,307.26 212.56,307.23 212.81,307.20 213.05,307.17 213.29,307.13 213.54,307.10 213.78,307.07 214.02,307.04 214.27,307.01 214.51,306.97 214.75,306.94 215.00,306.91 215.24,306.88 215.48,306.85 215.73,306.81 215.97,306.78 216.21,306.75 216.46,306.72 216.70,306.69 216.94,306.65 217.19,306.62 217.43,306.59 217.68,306.56 217.92,306.53 218.16,306.50 218.41,306.47 218.65,306.44 218.89,306.41 219.14,306.38 219.38,306.35 219.62,306.32 219.87,306.29 220.11,306.26 220.35,306.24 220.60,306.21 220.84,306.18 221.08,306.16 221.33,306.13 221.57,306.11 221.81,306.08 222.06,306.06 222.30,306.04 222.55,306.01 222.79,305.99 223.03,305.97 223.28,305.95 223.52,305.93 223.76,305.91 224.01,305.89 224.25,305.87 224.49,305.85 224.74,305.83 224.98,305.81 225.22,305.79 225.47,305.78 225.71,305.76 225.95,305.74 226.20,305.72 226.44,305.70 226.69,305.69 226.93,305.67 227.17,305.65 227.42,305.64 227.66,305.62 227.90,305.60 228.15,305.59 228.39,305.57 228.63,305.56 228.88,305.54 229.12,305.53 229.36,305.51 229.61,305.50 229.85,305.48 230.09,305.47 230.34,305.45 230.58,305.44 230.82,305.43 231.07,305.41 231.31,305.40 231.56,305.38 231.80,305.37 232.04,305.35 232.29,305.34 232.53,305.32 232.77,305.31 233.02,305.30 233.26,305.28 233.50,305.27 233.75,305.25 233.99,305.24 234.23,305.23 234.48,305.21 234.72,305.20 234.96,305.19 235.21,305.17 235.45,305.16 235.69,305.15 235.94,305.14 236.18,305.13 236.43,305.12 236.67,305.11 236.91,305.10 237.16,305.09 237.40,305.08 237.64,305.08 237.89,305.07 238.13,305.06 238.37,305.06 238.62,305.05 238.86,305.05 239.10,305.04 239.35,305.04 239.59,305.04 239.83,305.03 240.08,305.03 240.32,305.03 240.56,305.02 240.81,305.02 241.05,305.01 241.30,305.01 241.54,305.01 241.78,305.00 242.03,305.00 242.27,305.00 242.51,304.99 242.76,304.99 243.00,304.99 243.24,304.99 243.49,304.98 243.73,304.98 243.97,304.98 244.22,304.98 244.46,304.97 244.70,304.97 244.95,304.97 245.19,304.97 245.43,304.97 245.68,304.96 245.92,304.96 246.16,304.96 246.41,304.96 246.65,304.96 246.90,304.96 247.14,304.96 247.38,304.96 247.63,304.95 247.87,304.95 248.11,304.95 248.36,304.95 248.60,304.95" fill="none" stroke="#ff1010" stroke-width="1.35" stroke-linejoin="round"/></g>
<g font-family='"Liberation Sans", sans-serif'><path d="M281.00 296.40 V392.70 H377.60" fill="none" stroke="#c4c4c4" stroke-width="1"/><path d="M281.00 392.70 v-1.00 M300.32 392.70 v-1.00 M319.64 392.70 v-1.00 M338.96 392.70 v-1.00 M358.28 392.70 v-1.00 M377.60 392.70 v-1.00 M281.00 392.70 h1.00 M281.00 373.44 h1.00 M281.00 354.18 h1.00 M281.00 334.92 h1.00 M281.00 315.66 h1.00 M281.00 296.40 h1.00" fill="none" stroke="#9a9a9a" stroke-width="0.6"/><text x="281.00" y="401.00" font-size="6.30" text-anchor="middle" fill="#5a5a5a" stroke="#5a5a5a" stroke-width="0.18">0</text><text x="300.32" y="401.00" font-size="6.30" text-anchor="middle" fill="#5a5a5a" stroke="#5a5a5a" stroke-width="0.18"> 0</text><path transform="matrix(0.00308 0 0 -0.00308 296.816 401.000)" d="M583 0V1237L265 1010V1180L598 1409H764V0Z" fill="#5a5a5a" stroke="#5a5a5a" stroke-width="0.18" vector-effect="non-scaling-stroke"/><text x="319.64" y="401.00" font-size="6.30" text-anchor="middle" fill="#5a5a5a" stroke="#5a5a5a" stroke-width="0.18">20</text><text x="338.96" y="401.00" font-size="6.30" text-anchor="middle" fill="#5a5a5a" stroke="#5a5a5a" stroke-width="0.18">30</text><text x="358.28" y="401.00" font-size="6.30" text-anchor="middle" fill="#5a5a5a" stroke="#5a5a5a" stroke-width="0.18">40</text><text x="377.60" y="401.00" font-size="6.30" text-anchor="middle" fill="#5a5a5a" stroke="#5a5a5a" stroke-width="0.18">50</text><text x="279.10" y="395.00" font-size="6.30" text-anchor="end" fill="#5a5a5a" stroke="#5a5a5a" stroke-width="0.18">0</text><text x="279.10" y="376.00" font-size="6.30" text-anchor="end" fill="#5a5a5a" stroke="#5a5a5a" stroke-width="0.18">0.2</text><text x="279.10" y="356.00" font-size="6.30" text-anchor="end" fill="#5a5a5a" stroke="#5a5a5a" stroke-width="0.18">0.4</text><text x="279.10" y="337.00" font-size="6.30" text-anchor="end" fill="#5a5a5a" stroke="#5a5a5a" stroke-width="0.18">0.6</text><text x="279.10" y="318.00" font-size="6.30" text-anchor="end" fill="#5a5a5a" stroke="#5a5a5a" stroke-width="0.18">0.8</text><text x="279.10" y="299.00" font-size="6.30" text-anchor="end" fill="#5a5a5a" stroke="#5a5a5a" stroke-width="0.18"> </text><path transform="matrix(0.00308 0 0 -0.00308 275.596 299.000)" d="M583 0V1237L265 1010V1180L598 1409H764V0Z" fill="#5a5a5a" stroke="#5a5a5a" stroke-width="0.18" vector-effect="non-scaling-stroke"/><text x="329.50" y="409.60" font-size="7.50" text-anchor="middle" fill="#3a3a3a" stroke="#3a3a3a" stroke-width="0.22">distance</text><text transform="translate(268.50 344.40) rotate(-90)" font-size="7.40" text-anchor="middle" fill="#3a3a3a" stroke="#3a3a3a" stroke-width="0.22">semivariance</text><text x="329.20" y="293.00" font-size="10.00" text-anchor="middle" fill="#111" stroke="#111" stroke-width="0.18">Band 3</text><path d="M279.90 392.70h2.20M281.00 391.60v2.20M281.83 370.65h2.20M282.93 369.55v2.20M283.76 355.82h2.20M284.86 354.72v2.20M285.70 345.80h2.20M286.80 344.70v2.20M287.63 338.58h2.20M288.73 337.48v2.20M289.56 332.22h2.20M290.66 331.12v2.20M291.49 327.17h2.20M292.59 326.07v2.20M293.42 323.53h2.20M294.52 322.43v2.20M295.36 320.49h2.20M296.46 319.39v2.20M297.29 317.81h2.20M298.39 316.71v2.20M299.22 315.60h2.20M300.32 314.50v2.20M301.15 313.78h2.20M302.25 312.68v2.20M303.08 312.17h2.20M304.18 311.07v2.20M305.02 310.68h2.20M306.12 309.58v2.20M306.95 309.45h2.20M308.05 308.35v2.20M308.88 308.37h2.20M309.98 307.27v2.20M310.81 307.76h2.20M311.91 306.66v2.20M312.74 307.49h2.20M313.84 306.39v2.20M314.68 307.38h2.20M315.78 306.28v2.20M316.61 307.29h2.20M317.71 306.19v2.20M318.54 307.19h2.20M319.64 306.09v2.20M320.47 307.06h2.20M321.57 305.96v2.20M322.40 306.92h2.20M323.50 305.82v2.20M324.34 306.76h2.20M325.44 305.66v2.20M326.27 306.56h2.20M327.37 305.46v2.20M328.20 306.22h2.20M329.30 305.12v2.20M330.13 305.86h2.20M331.23 304.76v2.20M332.06 305.60h2.20M333.16 304.50v2.20M334.00 305.64h2.20M335.10 304.54v2.20M335.93 306.37h2.20M337.03 305.27v2.20M337.86 307.33h2.20M338.96 306.23v2.20M339.79 308.64h2.20M340.89 307.54v2.20M341.72 309.40h2.20M342.82 308.30v2.20M343.66 309.54h2.20M344.76 308.44v2.20M345.59 309.63h2.20M346.69 308.53v2.20M347.52 309.68h2.20M348.62 308.58v2.20M349.45 309.64h2.20M350.55 308.54v2.20M351.38 309.34h2.20M352.48 308.24v2.20M353.32 308.92h2.20M354.42 307.82v2.20M355.25 308.32h2.20M356.35 307.22v2.20M357.18 307.59h2.20M358.28 306.49v2.20M359.11 307.06h2.20M360.21 305.96v2.20M361.04 306.71h2.20M362.14 305.61v2.20M362.98 306.40h2.20M364.08 305.30v2.20M364.91 306.07h2.20M366.01 304.97v2.20M366.84 305.64h2.20M367.94 304.54v2.20M368.77 305.16h2.20M369.87 304.06v2.20M370.70 304.67h2.20M371.80 303.57v2.20M372.64 304.21h2.20M373.74 303.11v2.20M374.57 303.77h2.20M375.67 302.67v2.20M376.50 303.33h2.20M377.60 302.23v2.20" fill="none" stroke="#4040ff" stroke-width="0.9"/><polyline points="281.00,392.70 281.24,389.54 281.48,386.48 281.72,383.52 281.97,380.68 282.21,377.97 282.45,375.38 282.69,372.94 282.93,370.65 283.17,368.48 283.42,366.40 283.66,364.41 283.90,362.51 284.14,360.70 284.38,358.98 284.62,357.36 284.86,355.82 285.11,354.36 285.35,352.96 285.59,351.63 285.83,350.36 286.07,349.15 286.31,347.99 286.55,346.87 286.80,345.80 287.04,344.78 287.28,343.81 287.52,342.88 287.76,341.99 288.00,341.12 288.25,340.27 288.49,339.42 288.73,338.58 288.97,337.74 289.21,336.90 289.45,336.08 289.69,335.26 289.94,334.47 290.18,333.70 290.42,332.95 290.66,332.22 290.90,331.52 291.14,330.83 291.38,330.15 291.63,329.49 291.87,328.86 292.11,328.26 292.35,327.70 292.59,327.17 292.83,326.66 293.07,326.17 293.32,325.70 293.56,325.24 293.80,324.79 294.04,324.36 294.28,323.94 294.52,323.53 294.77,323.12 295.01,322.73 295.25,322.34 295.49,321.96 295.73,321.59 295.97,321.21 296.21,320.85 296.46,320.49 296.70,320.13 296.94,319.78 297.18,319.43 297.42,319.09 297.66,318.76 297.91,318.44 298.15,318.12 298.39,317.81 298.63,317.50 298.87,317.21 299.11,316.92 299.35,316.64 299.60,316.37 299.84,316.10 300.08,315.85 300.32,315.60 300.56,315.35 300.80,315.11 301.04,314.88 301.29,314.65 301.53,314.43 301.77,314.21 302.01,313.99 302.25,313.78 302.49,313.57 302.74,313.37 302.98,313.16 303.22,312.96 303.46,312.76 303.70,312.56 303.94,312.37 304.18,312.17 304.43,311.98 304.67,311.78 304.91,311.59 305.15,311.40 305.39,311.22 305.63,311.04 305.87,310.86 306.12,310.68 306.36,310.51 306.60,310.35 306.84,310.19 307.08,310.03 307.32,309.88 307.56,309.74 307.81,309.60 308.05,309.45 308.29,309.31 308.53,309.16 308.77,309.02 309.01,308.88 309.26,308.75 309.50,308.61 309.74,308.49 309.98,308.37 310.22,308.26 310.46,308.16 310.70,308.07 310.95,307.98 311.19,307.91 311.43,307.86 311.67,307.80 311.91,307.76 312.15,307.71 312.39,307.67 312.64,307.63 312.88,307.59 313.12,307.56 313.36,307.53 313.60,307.51 313.84,307.49 314.09,307.47 314.33,307.46 314.57,307.44 314.81,307.43 315.05,307.42 315.29,307.40 315.53,307.39 315.78,307.38 316.02,307.37 316.26,307.36 316.50,307.35 316.74,307.34 316.98,307.34 317.23,307.33 317.47,307.32 317.71,307.31 317.95,307.31 318.19,307.30 318.43,307.30 318.67,307.29 318.92,307.29 319.16,307.28 319.40,307.28 319.64,307.28 319.88,307.27 320.12,307.27 320.36,307.26 320.61,307.26 320.85,307.26 321.09,307.25 321.33,307.25 321.57,307.25 321.81,307.24 322.06,307.24 322.30,307.24 322.54,307.23 322.78,307.23 323.02,307.23 323.26,307.22 323.50,307.22 323.75,307.22 323.99,307.22 324.23,307.21 324.47,307.21 324.71,307.21 324.95,307.21 325.19,307.20 325.44,307.20 325.68,307.20 325.92,307.20 326.16,307.20 326.40,307.20 326.64,307.19 326.88,307.19 327.13,307.19 327.37,307.19 327.61,307.19 327.85,307.19 328.09,307.19 328.33,307.19 328.58,307.19 328.82,307.19 329.06,307.19 329.30,307.19 329.54,307.19 329.78,307.19 330.02,307.19 330.27,307.19 330.51,307.19 330.75,307.19 330.99,307.19 331.23,307.19 331.47,307.19 331.72,307.19 331.96,307.19 332.20,307.19 332.44,307.19 332.68,307.19 332.92,307.19 333.16,307.19 333.41,307.19 333.65,307.19 333.89,307.19 334.13,307.19 334.37,307.19 334.61,307.19 334.85,307.19 335.10,307.19 335.34,307.19 335.58,307.19 335.82,307.19 336.06,307.19 336.30,307.19 336.55,307.19 336.79,307.19 337.03,307.19 337.27,307.19 337.51,307.19 337.75,307.19 337.99,307.19 338.24,307.19 338.48,307.19 338.72,307.19 338.96,307.19 339.20,307.19 339.44,307.19 339.68,307.19 339.93,307.19 340.17,307.19 340.41,307.19 340.65,307.19 340.89,307.19 341.13,307.19 341.38,307.19 341.62,307.19 341.86,307.19 342.10,307.19 342.34,307.19 342.58,307.19 342.82,307.19 343.07,307.19 343.31,307.19 343.55,307.19 343.79,307.19 344.03,307.19 344.27,307.19 344.51,307.19 344.76,307.19 345.00,307.19 345.24,307.19 345.48,307.19 345.72,307.19 345.96,307.19 346.21,307.19 346.45,307.19 346.69,307.19 346.93,307.19 347.17,307.19 347.41,307.19 347.65,307.19 347.90,307.19 348.14,307.19 348.38,307.19 348.62,307.19 348.86,307.19 349.10,307.19 349.34,307.19 349.59,307.19 349.83,307.19 350.07,307.19 350.31,307.19 350.55,307.19 350.79,307.19 351.04,307.19 351.28,307.19 351.52,307.19 351.76,307.19 352.00,307.19 352.24,307.19 352.48,307.19 352.73,307.19 352.97,307.19 353.21,307.19 353.45,307.19 353.69,307.19 353.93,307.19 354.17,307.19 354.42,307.19 354.66,307.19 354.90,307.19 355.14,307.19 355.38,307.19 355.62,307.19 355.87,307.19 356.11,307.19 356.35,307.19 356.59,307.19 356.83,307.19 357.07,307.19 357.31,307.19 357.56,307.19 357.80,307.19 358.04,307.19 358.28,307.19 358.52,307.19 358.76,307.19 359.00,307.19 359.25,307.19 359.49,307.19 359.73,307.19 359.97,307.19 360.21,307.19 360.45,307.19 360.70,307.19 360.94,307.19 361.18,307.19 361.42,307.19 361.66,307.19 361.90,307.19 362.14,307.19 362.39,307.19 362.63,307.19 362.87,307.19 363.11,307.19 363.35,307.19 363.59,307.19 363.83,307.19 364.08,307.19 364.32,307.19 364.56,307.19 364.80,307.19 365.04,307.19 365.28,307.19 365.53,307.19 365.77,307.19 366.01,307.19 366.25,307.19 366.49,307.19 366.73,307.19 366.97,307.19 367.22,307.19 367.46,307.19 367.70,307.19 367.94,307.19 368.18,307.19 368.42,307.19 368.66,307.19 368.91,307.19 369.15,307.19 369.39,307.19 369.63,307.19 369.87,307.19 370.11,307.19 370.36,307.19 370.60,307.19 370.84,307.19 371.08,307.19 371.32,307.19 371.56,307.19 371.80,307.19 372.05,307.19 372.29,307.19 372.53,307.19 372.77,307.19 373.01,307.19 373.25,307.19 373.49,307.19 373.74,307.19 373.98,307.19 374.22,307.19 374.46,307.19 374.70,307.19 374.94,307.19 375.19,307.19 375.43,307.19 375.67,307.19 375.91,307.19 376.15,307.19 376.39,307.19 376.63,307.19 376.88,307.19 377.12,307.19 377.36,307.19 377.60,307.19" fill="none" stroke="#ff1010" stroke-width="1.35" stroke-linejoin="round"/></g>
<g font-family='"Liberation Sans", sans-serif'><path d="M18.90 427.60 V517.30 H108.90" fill="none" stroke="#c4c4c4" stroke-width="1"/><path d="M18.90 517.30 v-1.00 M36.90 517.30 v-1.00 M54.90 517.30 v-1.00 M72.90 517.30 v-1.00 M90.90 517.30 v-1.00 M108.90 517.30 v-1.00 M18.90 517.30 h1.00 M18.90 499.36 h1.00 M18.90 481.42 h1.00 M18.90 463.48 h1.00 M18.90 445.54 h1.00 M18.90 427.60 h1.00" fill="none" stroke="#9a9a9a" stroke-width="0.6"/><text x="18.90" y="524.00" font-size="5.50" text-anchor="middle" fill="#5a5a5a" stroke="#5a5a5a" stroke-width="0.18">0</text><text x="36.90" y="524.00" font-size="5.50" text-anchor="middle" fill="#5a5a5a" stroke="#5a5a5a" stroke-width="0.18"> 0</text><path transform="matrix(0.00269 0 0 -0.00269 33.841 524.000)" d="M583 0V1237L265 1010V1180L598 1409H764V0Z" fill="#5a5a5a" stroke="#5a5a5a" stroke-width="0.18" vector-effect="non-scaling-stroke"/><text x="54.90" y="524.00" font-size="5.50" text-anchor="middle" fill="#5a5a5a" stroke="#5a5a5a" stroke-width="0.18">20</text><text x="72.90" y="524.00" font-size="5.50" text-anchor="middle" fill="#5a5a5a" stroke="#5a5a5a" stroke-width="0.18">30</text><text x="90.90" y="524.00" font-size="5.50" text-anchor="middle" fill="#5a5a5a" stroke="#5a5a5a" stroke-width="0.18">40</text><text x="108.90" y="524.00" font-size="5.50" text-anchor="middle" fill="#5a5a5a" stroke="#5a5a5a" stroke-width="0.18">50</text><text x="16.90" y="519.00" font-size="5.50" text-anchor="end" fill="#5a5a5a" stroke="#5a5a5a" stroke-width="0.18">0</text><text x="16.90" y="501.00" font-size="5.50" text-anchor="end" fill="#5a5a5a" stroke="#5a5a5a" stroke-width="0.18">0.2</text><text x="16.90" y="483.00" font-size="5.50" text-anchor="end" fill="#5a5a5a" stroke="#5a5a5a" stroke-width="0.18">0.4</text><text x="16.90" y="465.00" font-size="5.50" text-anchor="end" fill="#5a5a5a" stroke="#5a5a5a" stroke-width="0.18">0.6</text><text x="16.90" y="448.00" font-size="5.50" text-anchor="end" fill="#5a5a5a" stroke="#5a5a5a" stroke-width="0.18">0.8</text><text x="16.90" y="430.00" font-size="5.50" text-anchor="end" fill="#5a5a5a" stroke="#5a5a5a" stroke-width="0.18"> </text><path transform="matrix(0.00269 0 0 -0.00269 13.841 430.000)" d="M583 0V1237L265 1010V1180L598 1409H764V0Z" fill="#5a5a5a" stroke="#5a5a5a" stroke-width="0.18" vector-effect="non-scaling-stroke"/><text x="63.80" y="532.70" font-size="7.10" text-anchor="middle" fill="#3a3a3a" stroke="#3a3a3a" stroke-width="0.22">distance</text><text transform="translate(6.50 472.20) rotate(-90)" font-size="6.90" text-anchor="middle" fill="#3a3a3a" stroke="#3a3a3a" stroke-width="0.22">semivariance</text><text x="63.90" y="424.00" font-size="9.20" text-anchor="middle" fill="#111" stroke="#111" stroke-width="0.18">Band 4</text><path d="M17.80 517.30h2.20M18.90 516.20v2.20M19.60 490.67h2.20M20.70 489.57v2.20M21.40 474.06h2.20M22.50 472.96v2.20M23.20 461.48h2.20M24.30 460.38v2.20M25.00 451.79h2.20M26.10 450.69v2.20M26.80 447.98h2.20M27.90 446.88v2.20M28.60 446.14h2.20M29.70 445.04v2.20M30.40 444.67h2.20M31.50 443.57v2.20M32.20 443.14h2.20M33.30 442.04v2.20M34.00 441.84h2.20M35.10 440.74v2.20M35.80 440.79h2.20M36.90 439.69v2.20M37.60 439.84h2.20M38.70 438.74v2.20M39.40 439.00h2.20M40.50 437.90v2.20M41.20 438.24h2.20M42.30 437.14v2.20M43.00 437.60h2.20M44.10 436.50v2.20M44.80 437.11h2.20M45.90 436.01v2.20M46.60 436.74h2.20M47.70 435.64v2.20M48.40 436.38h2.20M49.50 435.28v2.20M50.20 436.04h2.20M51.30 434.94v2.20M52.00 435.75h2.20M53.10 434.65v2.20M53.80 435.55h2.20M54.90 434.45v2.20M55.60 435.41h2.20M56.70 434.31v2.20M57.40 435.28h2.20M58.50 434.18v2.20M59.20 435.05h2.20M60.30 433.95v2.20M61.00 434.69h2.20M62.10 433.59v2.20M62.80 434.26h2.20M63.90 433.16v2.20M64.60 433.88h2.20M65.70 432.78v2.20M66.40 433.59h2.20M67.50 432.49v2.20M68.20 433.32h2.20M69.30 432.22v2.20M70.00 433.08h2.20M71.10 431.98v2.20M71.80 432.90h2.20M72.90 431.80v2.20M73.60 432.81h2.20M74.70 431.71v2.20M75.40 433.25h2.20M76.50 432.15v2.20M77.20 433.98h2.20M78.30 432.88v2.20M79.00 434.12h2.20M80.10 433.02v2.20M80.80 434.07h2.20M81.90 432.97v2.20M82.60 434.03h2.20M83.70 432.93v2.20M84.40 433.98h2.20M85.50 432.88v2.20M86.20 433.66h2.20M87.30 432.56v2.20M88.00 433.10h2.20M89.10 432.00v2.20M89.80 432.60h2.20M90.90 431.50v2.20M91.60 432.44h2.20M92.70 431.34v2.20M93.40 432.74h2.20M94.50 431.64v2.20M95.20 433.10h2.20M96.30 432.00v2.20M97.00 433.21h2.20M98.10 432.11v2.20M98.80 433.28h2.20M99.90 432.18v2.20M100.60 433.33h2.20M101.70 432.23v2.20M102.40 433.36h2.20M103.50 432.26v2.20M104.20 433.35h2.20M105.30 432.25v2.20M106.00 433.31h2.20M107.10 432.21v2.20M107.80 433.25h2.20M108.90 432.15v2.20" fill="none" stroke="#4040ff" stroke-width="0.9"/><polyline points="18.90,517.30 19.12,513.37 19.35,509.56 19.57,505.90 19.80,502.42 20.02,499.13 20.25,496.07 20.47,493.25 20.70,490.67 20.92,488.23 21.15,485.92 21.38,483.74 21.60,481.65 21.82,479.66 22.05,477.74 22.27,475.88 22.50,474.06 22.72,472.29 22.95,470.61 23.17,469.00 23.40,467.44 23.62,465.93 23.85,464.44 24.07,462.96 24.30,461.48 24.52,459.93 24.75,458.33 24.97,456.78 25.20,455.40 25.42,454.32 25.65,453.40 25.88,452.56 26.10,451.79 26.32,451.10 26.55,450.49 26.77,449.94 27.00,449.47 27.23,449.04 27.45,448.66 27.67,448.30 27.90,447.98 28.12,447.69 28.35,447.42 28.57,447.18 28.80,446.95 29.02,446.73 29.25,446.52 29.48,446.33 29.70,446.14 29.92,445.96 30.15,445.79 30.38,445.63 30.60,445.47 30.82,445.31 31.05,445.16 31.27,445.00 31.50,444.85 31.73,444.69 31.95,444.53 32.17,444.38 32.40,444.23 32.62,444.08 32.85,443.93 33.08,443.78 33.30,443.64 33.52,443.50 33.75,443.36 33.98,443.22 34.20,443.08 34.42,442.95 34.65,442.82 34.88,442.69 35.10,442.56 35.33,442.43 35.55,442.30 35.77,442.18 36.00,442.05 36.22,441.93 36.45,441.81 36.67,441.69 36.90,441.57 37.12,441.45 37.35,441.34 37.58,441.22 37.80,441.11 38.02,441.00 38.25,440.89 38.47,440.78 38.70,440.67 38.92,440.57 39.15,440.46 39.38,440.36 39.60,440.26 39.83,440.16 40.05,440.06 40.27,439.96 40.50,439.87 40.72,439.77 40.95,439.68 41.17,439.58 41.40,439.49 41.62,439.40 41.85,439.31 42.08,439.22 42.30,439.13 42.52,439.04 42.75,438.96 42.97,438.88 43.20,438.79 43.42,438.72 43.65,438.64 43.88,438.56 44.10,438.49 44.33,438.42 44.55,438.36 44.77,438.29 45.00,438.23 45.22,438.17 45.45,438.11 45.67,438.05 45.90,437.99 46.12,437.93 46.35,437.88 46.58,437.82 46.80,437.77 47.02,437.71 47.25,437.66 47.47,437.61 47.70,437.55 47.92,437.50 48.15,437.44 48.38,437.39 48.60,437.33 48.83,437.28 49.05,437.22 49.27,437.17 49.50,437.11 49.72,437.05 49.95,437.00 50.17,436.94 50.40,436.89 50.62,436.83 50.85,436.78 51.08,436.73 51.30,436.67 51.52,436.62 51.75,436.57 51.98,436.52 52.20,436.47 52.42,436.43 52.65,436.38 52.88,436.33 53.10,436.29 53.33,436.24 53.55,436.20 53.77,436.16 54.00,436.11 54.23,436.07 54.45,436.03 54.67,435.99 54.90,435.95 55.12,435.91 55.35,435.87 55.58,435.83 55.80,435.79 56.02,435.75 56.25,435.71 56.48,435.67 56.70,435.64 56.92,435.60 57.15,435.56 57.38,435.52 57.60,435.49 57.83,435.45 58.05,435.42 58.27,435.38 58.50,435.34 58.73,435.31 58.95,435.27 59.17,435.23 59.40,435.20 59.62,435.16 59.85,435.12 60.08,435.09 60.30,435.05 60.52,435.01 60.75,434.98 60.98,434.94 61.20,434.90 61.42,434.87 61.65,434.83 61.88,434.80 62.10,434.76 62.33,434.73 62.55,434.69 62.77,434.66 63.00,434.63 63.23,434.60 63.45,434.56 63.67,434.53 63.90,434.50 64.12,434.47 64.35,434.44 64.58,434.42 64.80,434.39 65.03,434.36 65.25,434.34 65.47,434.31 65.70,434.29 65.92,434.27 66.15,434.25 66.38,434.23 66.60,434.21 66.83,434.19 67.05,434.17 67.28,434.15 67.50,434.13 67.72,434.11 67.95,434.09 68.17,434.07 68.40,434.06 68.62,434.04 68.85,434.02 69.08,434.01 69.30,433.99 69.53,433.97 69.75,433.96 69.97,433.94 70.20,433.93 70.42,433.91 70.65,433.90 70.88,433.88 71.10,433.87 71.33,433.86 71.55,433.84 71.78,433.83 72.00,433.82 72.22,433.81 72.45,433.79 72.67,433.78 72.90,433.77 73.12,433.76 73.35,433.75 73.58,433.74 73.80,433.73 74.03,433.71 74.25,433.70 74.47,433.69 74.70,433.68 74.92,433.68 75.15,433.67 75.38,433.66 75.60,433.65 75.83,433.64 76.05,433.63 76.28,433.62 76.50,433.61 76.72,433.60 76.95,433.60 77.17,433.59 77.40,433.58 77.62,433.57 77.85,433.57 78.08,433.56 78.30,433.55 78.53,433.54 78.75,433.54 78.97,433.53 79.20,433.52 79.42,433.52 79.65,433.51 79.88,433.50 80.10,433.50 80.33,433.49 80.55,433.48 80.78,433.48 81.00,433.47 81.22,433.46 81.45,433.46 81.67,433.45 81.90,433.45 82.12,433.44 82.35,433.43 82.58,433.43 82.80,433.42 83.03,433.42 83.25,433.41 83.47,433.40 83.70,433.40 83.93,433.39 84.15,433.39 84.38,433.38 84.60,433.38 84.82,433.37 85.05,433.36 85.28,433.36 85.50,433.35 85.72,433.35 85.95,433.34 86.18,433.34 86.40,433.33 86.62,433.33 86.85,433.32 87.07,433.32 87.30,433.31 87.53,433.31 87.75,433.30 87.97,433.30 88.20,433.29 88.43,433.29 88.65,433.28 88.88,433.28 89.10,433.28 89.32,433.27 89.55,433.27 89.78,433.26 90.00,433.26 90.22,433.26 90.45,433.25 90.68,433.25 90.90,433.25 91.12,433.24 91.35,433.24 91.57,433.24 91.80,433.23 92.03,433.23 92.25,433.23 92.47,433.22 92.70,433.22 92.93,433.22 93.15,433.21 93.38,433.21 93.60,433.21 93.82,433.20 94.05,433.20 94.28,433.20 94.50,433.19 94.72,433.19 94.95,433.19 95.18,433.18 95.40,433.18 95.62,433.18 95.85,433.18 96.07,433.17 96.30,433.17 96.53,433.17 96.75,433.17 96.97,433.17 97.20,433.17 97.43,433.16 97.65,433.16 97.88,433.16 98.10,433.16 98.32,433.16 98.55,433.16 98.78,433.16 99.00,433.16 99.22,433.16 99.45,433.16 99.68,433.16 99.90,433.16 100.12,433.16 100.35,433.16 100.57,433.16 100.80,433.16 101.03,433.17 101.25,433.17 101.47,433.17 101.70,433.17 101.93,433.17 102.15,433.17 102.38,433.17 102.60,433.17 102.82,433.17 103.05,433.18 103.28,433.18 103.50,433.18 103.72,433.18 103.95,433.18 104.18,433.18 104.40,433.19 104.62,433.19 104.85,433.19 105.07,433.19 105.30,433.20 105.53,433.20 105.75,433.20 105.97,433.20 106.20,433.21 106.43,433.21 106.65,433.21 106.88,433.22 107.10,433.22 107.32,433.22 107.55,433.23 107.78,433.23 108.00,433.23 108.22,433.24 108.45,433.24 108.68,433.25 108.90,433.25" fill="none" stroke="#ff1010" stroke-width="1.35" stroke-linejoin="round"/></g>
<g font-family='"Liberation Sans", sans-serif'><path d="M150.10 428.10 V519.50 H242.30" fill="none" stroke="#c4c4c4" stroke-width="1"/><path d="M150.10 519.50 v-1.00 M168.54 519.50 v-1.00 M186.98 519.50 v-1.00 M205.42 519.50 v-1.00 M223.86 519.50 v-1.00 M242.30 519.50 v-1.00 M150.10 519.50 h1.00 M150.10 501.22 h1.00 M150.10 482.94 h1.00 M150.10 464.66 h1.00 M150.10 446.38 h1.00 M150.10 428.10 h1.00" fill="none" stroke="#9a9a9a" stroke-width="0.6"/><text x="150.10" y="528.00" font-size="5.80" text-anchor="middle" fill="#5a5a5a" stroke="#5a5a5a" stroke-width="0.18">0</text><text x="168.54" y="528.00" font-size="5.80" text-anchor="middle" fill="#5a5a5a" stroke="#5a5a5a" stroke-width="0.18"> 0</text><path transform="matrix(0.00283 0 0 -0.00283 165.314 528.000)" d="M583 0V1237L265 1010V1180L598 1409H764V0Z" fill="#5a5a5a" stroke="#5a5a5a" stroke-width="0.18" vector-effect="non-scaling-stroke"/><text x="186.98" y="528.00" font-size="5.80" text-anchor="middle" fill="#5a5a5a" stroke="#5a5a5a" stroke-width="0.18">20</text><text x="205.42" y="528.00" font-size="5.80" text-anchor="middle" fill="#5a5a5a" stroke="#5a5a5a" stroke-width="0.18">30</text><text x="223.86" y="528.00" font-size="5.80" text-anchor="middle" fill="#5a5a5a" stroke="#5a5a5a" stroke-width="0.18">40</text><text x="242.30" y="528.00" font-size="5.80" text-anchor="middle" fill="#5a5a5a" stroke="#5a5a5a" stroke-width="0.18">50</text><text x="148.00" y="522.00" font-size="5.80" text-anchor="end" fill="#5a5a5a" stroke="#5a5a5a" stroke-width="0.18">0</text><text x="148.00" y="503.00" font-size="5.80" text-anchor="end" fill="#5a5a5a" stroke="#5a5a5a" stroke-width="0.18">0.2</text><text x="148.00" y="485.00" font-size="5.80" text-anchor="end" fill="#5a5a5a" stroke="#5a5a5a" stroke-width="0.18">0.4</text><text x="148.00" y="467.00" font-size="5.80" text-anchor="end" fill="#5a5a5a" stroke="#5a5a5a" stroke-width="0.18">0.6</text><text x="148.00" y="448.00" font-size="5.80" text-anchor="end" fill="#5a5a5a" stroke="#5a5a5a" stroke-width="0.18">0.8</text><text x="148.00" y="430.00" font-size="5.80" text-anchor="end" fill="#5a5a5a" stroke="#5a5a5a" stroke-width="0.18"> </text><path transform="matrix(0.00283 0 0 -0.00283 144.774 430.000)" d="M583 0V1237L265 1010V1180L598 1409H764V0Z" fill="#5a5a5a" stroke="#5a5a5a" stroke-width="0.18" vector-effect="non-scaling-stroke"/><text x="195.70" y="536.50" font-size="6.90" text-anchor="middle" fill="#3a3a3a" stroke="#3a3a3a" stroke-width="0.22">distance</text><text transform="translate(138.50 473.60) rotate(-90)" font-size="7.20" text-anchor="middle" fill="#3a3a3a" stroke="#3a3a3a" stroke-width="0.22">semivariance</text><text x="196.30" y="424.00" font-size="9.50" text-anchor="middle" fill="#111" stroke="#111" stroke-width="0.18">Band 5</text><path d="M149.00 519.50h2.20M150.10 518.40v2.20M150.84 485.32h2.20M151.94 484.22v2.20M152.69 467.58h2.20M153.79 466.48v2.20M154.53 455.49h2.20M155.63 454.39v2.20M156.38 449.00h2.20M157.48 447.90v2.20M158.22 445.99h2.20M159.32 444.89v2.20M160.06 443.63h2.20M161.16 442.53v2.20M161.91 441.75h2.20M163.01 440.65v2.20M163.75 440.53h2.20M164.85 439.43v2.20M165.60 439.53h2.20M166.70 438.43v2.20M167.44 438.63h2.20M168.54 437.53v2.20M169.28 437.95h2.20M170.38 436.85v2.20M171.13 437.53h2.20M172.23 436.43v2.20M172.97 437.19h2.20M174.07 436.09v2.20M174.82 436.90h2.20M175.92 435.80v2.20M176.66 436.67h2.20M177.76 435.57v2.20M178.50 436.45h2.20M179.60 435.35v2.20M180.35 436.17h2.20M181.45 435.07v2.20M182.19 435.74h2.20M183.29 434.64v2.20M184.04 435.12h2.20M185.14 434.02v2.20M185.88 434.54h2.20M186.98 433.44v2.20M187.72 434.09h2.20M188.82 432.99v2.20M189.57 433.70h2.20M190.67 432.60v2.20M191.41 433.38h2.20M192.51 432.28v2.20M193.26 433.10h2.20M194.36 432.00v2.20M195.10 432.86h2.20M196.20 431.76v2.20M196.94 432.70h2.20M198.04 431.60v2.20M198.79 432.71h2.20M199.89 431.61v2.20M200.63 433.03h2.20M201.73 431.93v2.20M202.48 433.41h2.20M203.58 432.31v2.20M204.32 433.74h2.20M205.42 432.64v2.20M206.16 434.08h2.20M207.26 432.98v2.20M208.01 434.37h2.20M209.11 433.27v2.20M209.85 434.62h2.20M210.95 433.52v2.20M211.70 434.63h2.20M212.80 433.53v2.20M213.54 434.24h2.20M214.64 433.14v2.20M215.38 433.83h2.20M216.48 432.73v2.20M217.23 433.43h2.20M218.33 432.33v2.20M219.07 433.38h2.20M220.17 432.28v2.20M220.92 433.37h2.20M222.02 432.27v2.20M222.76 433.36h2.20M223.86 432.26v2.20M224.60 433.38h2.20M225.70 432.28v2.20M226.45 433.42h2.20M227.55 432.32v2.20M228.29 433.74h2.20M229.39 432.64v2.20M230.14 434.23h2.20M231.24 433.13v2.20M231.98 434.62h2.20M233.08 433.52v2.20M233.82 434.65h2.20M234.92 433.55v2.20M235.67 434.47h2.20M236.77 433.37v2.20M237.51 434.23h2.20M238.61 433.13v2.20M239.36 434.04h2.20M240.46 432.94v2.20M241.20 433.95h2.20M242.30 432.85v2.20" fill="none" stroke="#4040ff" stroke-width="0.9"/><polyline points="150.10,519.50 150.33,514.29 150.56,509.29 150.79,504.52 151.02,500.03 151.25,495.83 151.48,491.95 151.71,488.44 151.94,485.32 152.17,482.52 152.41,479.95 152.64,477.57 152.87,475.36 153.10,473.29 153.33,471.32 153.56,469.43 153.79,467.58 154.02,465.82 154.25,464.18 154.48,462.63 154.71,461.13 154.94,459.66 155.17,458.20 155.40,456.78 155.63,455.49 155.86,454.38 156.09,453.41 156.32,452.49 156.55,451.64 156.78,450.86 157.01,450.16 157.25,449.54 157.48,449.00 157.71,448.52 157.94,448.08 158.17,447.67 158.40,447.29 158.63,446.93 158.86,446.60 159.09,446.29 159.32,445.99 159.55,445.71 159.78,445.43 160.01,445.16 160.24,444.91 160.47,444.66 160.70,444.42 160.93,444.19 161.16,443.97 161.39,443.75 161.62,443.55 161.86,443.35 162.09,443.16 162.32,442.98 162.55,442.80 162.78,442.64 163.01,442.48 163.24,442.32 163.47,442.17 163.70,442.03 163.93,441.89 164.16,441.75 164.39,441.62 164.62,441.49 164.85,441.36 165.08,441.24 165.31,441.12 165.54,441.00 165.77,440.88 166.00,440.76 166.23,440.65 166.47,440.53 166.70,440.42 166.93,440.31 167.16,440.19 167.39,440.08 167.62,439.97 167.85,439.86 168.08,439.75 168.31,439.65 168.54,439.54 168.77,439.44 169.00,439.33 169.23,439.23 169.46,439.14 169.69,439.04 169.92,438.94 170.15,438.85 170.38,438.76 170.61,438.67 170.84,438.59 171.08,438.50 171.31,438.42 171.54,438.34 171.77,438.26 172.00,438.19 172.23,438.11 172.46,438.04 172.69,437.97 172.92,437.90 173.15,437.83 173.38,437.76 173.61,437.69 173.84,437.62 174.07,437.56 174.30,437.49 174.53,437.43 174.76,437.37 174.99,437.30 175.22,437.24 175.45,437.18 175.69,437.12 175.92,437.06 176.15,437.00 176.38,436.94 176.61,436.89 176.84,436.83 177.07,436.77 177.30,436.72 177.53,436.66 177.76,436.61 177.99,436.55 178.22,436.50 178.45,436.45 178.68,436.40 178.91,436.35 179.14,436.29 179.37,436.24 179.60,436.19 179.83,436.15 180.06,436.10 180.30,436.05 180.53,436.00 180.76,435.95 180.99,435.90 181.22,435.85 181.45,435.81 181.68,435.76 181.91,435.72 182.14,435.67 182.37,435.63 182.60,435.59 182.83,435.54 183.06,435.50 183.29,435.46 183.52,435.43 183.75,435.39 183.98,435.35 184.21,435.31 184.44,435.28 184.68,435.24 184.91,435.21 185.14,435.17 185.37,435.14 185.60,435.10 185.83,435.07 186.06,435.03 186.29,435.00 186.52,434.97 186.75,434.93 186.98,434.90 187.21,434.87 187.44,434.84 187.67,434.81 187.90,434.78 188.13,434.75 188.36,434.72 188.59,434.69 188.82,434.67 189.05,434.64 189.28,434.61 189.52,434.59 189.75,434.56 189.98,434.54 190.21,434.51 190.44,434.49 190.67,434.47 190.90,434.45 191.13,434.42 191.36,434.40 191.59,434.38 191.82,434.36 192.05,434.33 192.28,434.31 192.51,434.29 192.74,434.27 192.97,434.25 193.20,434.23 193.43,434.21 193.66,434.19 193.90,434.17 194.13,434.15 194.36,434.13 194.59,434.11 194.82,434.09 195.05,434.07 195.28,434.05 195.51,434.04 195.74,434.02 195.97,434.00 196.20,433.99 196.43,433.97 196.66,433.96 196.89,433.95 197.12,433.93 197.35,433.92 197.58,433.91 197.81,433.90 198.04,433.89 198.27,433.88 198.50,433.87 198.74,433.86 198.97,433.85 199.20,433.84 199.43,433.84 199.66,433.83 199.89,433.82 200.12,433.81 200.35,433.80 200.58,433.80 200.81,433.79 201.04,433.78 201.27,433.78 201.50,433.77 201.73,433.76 201.96,433.76 202.19,433.75 202.42,433.74 202.65,433.74 202.88,433.73 203.12,433.73 203.35,433.72 203.58,433.72 203.81,433.71 204.04,433.71 204.27,433.70 204.50,433.70 204.73,433.69 204.96,433.69 205.19,433.69 205.42,433.69 205.65,433.68 205.88,433.68 206.11,433.68 206.34,433.68 206.57,433.68 206.80,433.68 207.03,433.68 207.26,433.68 207.49,433.68 207.72,433.68 207.96,433.68 208.19,433.68 208.42,433.68 208.65,433.68 208.88,433.68 209.11,433.68 209.34,433.68 209.57,433.68 209.80,433.68 210.03,433.68 210.26,433.68 210.49,433.68 210.72,433.68 210.95,433.68 211.18,433.68 211.41,433.68 211.64,433.68 211.87,433.68 212.10,433.68 212.34,433.68 212.57,433.68 212.80,433.68 213.03,433.68 213.26,433.68 213.49,433.68 213.72,433.68 213.95,433.68 214.18,433.68 214.41,433.68 214.64,433.68 214.87,433.68 215.10,433.68 215.33,433.68 215.56,433.68 215.79,433.68 216.02,433.68 216.25,433.68 216.48,433.68 216.71,433.68 216.94,433.67 217.18,433.67 217.41,433.67 217.64,433.67 217.87,433.67 218.10,433.67 218.33,433.67 218.56,433.67 218.79,433.66 219.02,433.66 219.25,433.66 219.48,433.66 219.71,433.66 219.94,433.65 220.17,433.65 220.40,433.65 220.63,433.64 220.86,433.64 221.09,433.64 221.32,433.64 221.56,433.63 221.79,433.63 222.02,433.63 222.25,433.62 222.48,433.62 222.71,433.62 222.94,433.62 223.17,433.61 223.40,433.61 223.63,433.61 223.86,433.60 224.09,433.60 224.32,433.60 224.55,433.60 224.78,433.60 225.01,433.59 225.24,433.59 225.47,433.59 225.70,433.59 225.93,433.59 226.17,433.59 226.40,433.59 226.63,433.58 226.86,433.58 227.09,433.58 227.32,433.58 227.55,433.58 227.78,433.58 228.01,433.58 228.24,433.58 228.47,433.58 228.70,433.58 228.93,433.58 229.16,433.58 229.39,433.58 229.62,433.58 229.85,433.58 230.08,433.58 230.31,433.58 230.54,433.58 230.78,433.58 231.01,433.58 231.24,433.58 231.47,433.58 231.70,433.58 231.93,433.58 232.16,433.58 232.39,433.58 232.62,433.58 232.85,433.58 233.08,433.58 233.31,433.58 233.54,433.58 233.77,433.58 234.00,433.58 234.23,433.58 234.46,433.58 234.69,433.58 234.92,433.58 235.15,433.58 235.38,433.58 235.62,433.58 235.85,433.58 236.08,433.58 236.31,433.58 236.54,433.58 236.77,433.58 237.00,433.58 237.23,433.58 237.46,433.58 237.69,433.58 237.92,433.58 238.15,433.58 238.38,433.58 238.61,433.58 238.84,433.58 239.07,433.58 239.30,433.58 239.53,433.58 239.76,433.58 240.00,433.58 240.23,433.58 240.46,433.58 240.69,433.58 240.92,433.58 241.15,433.58 241.38,433.58 241.61,433.58 241.84,433.58 242.07,433.58 242.30,433.58" fill="none" stroke="#ff1010" stroke-width="1.35" stroke-linejoin="round"/></g>
<g font-family='"Liberation Sans", sans-serif'><path d="M279.30 427.30 V517.10 H368.70" fill="none" stroke="#c4c4c4" stroke-width="1"/><path d="M279.30 517.10 v-1.00 M297.18 517.10 v-1.00 M315.06 517.10 v-1.00 M332.94 517.10 v-1.00 M350.82 517.10 v-1.00 M368.70 517.10 v-1.00 M279.30 517.10 h1.00 M279.30 499.14 h1.00 M279.30 481.18 h1.00 M279.30 463.22 h1.00 M279.30 445.26 h1.00 M279.30 427.30 h1.00" fill="none" stroke="#9a9a9a" stroke-width="0.6"/><text x="279.30" y="525.00" font-size="5.60" text-anchor="middle" fill="#5a5a5a" stroke="#5a5a5a" stroke-width="0.18">0</text><text x="297.18" y="525.00" font-size="5.60" text-anchor="middle" fill="#5a5a5a" stroke="#5a5a5a" stroke-width="0.18"> 0</text><path transform="matrix(0.00273 0 0 -0.00273 294.066 525.000)" d="M583 0V1237L265 1010V1180L598 1409H764V0Z" fill="#5a5a5a" stroke="#5a5a5a" stroke-width="0.18" vector-effect="non-scaling-stroke"/><text x="315.06" y="525.00" font-size="5.60" text-anchor="middle" fill="#5a5a5a" stroke="#5a5a5a" stroke-width="0.18">20</text><text x="332.94" y="525.00" font-size="5.60" text-anchor="middle" fill="#5a5a5a" stroke="#5a5a5a" stroke-width="0.18">30</text><text x="350.82" y="525.00" font-size="5.60" text-anchor="middle" fill="#5a5a5a" stroke="#5a5a5a" stroke-width="0.18">40</text><text x="368.70" y="525.00" font-size="5.60" text-anchor="middle" fill="#5a5a5a" stroke="#5a5a5a" stroke-width="0.18">50</text><text x="277.00" y="519.00" font-size="5.60" text-anchor="end" fill="#5a5a5a" stroke="#5a5a5a" stroke-width="0.18">0</text><text x="277.00" y="501.00" font-size="5.60" text-anchor="end" fill="#5a5a5a" stroke="#5a5a5a" stroke-width="0.18">0.2</text><text x="277.00" y="483.00" font-size="5.60" text-anchor="end" fill="#5a5a5a" stroke="#5a5a5a" stroke-width="0.18">0.4</text><text x="277.00" y="465.00" font-size="5.60" text-anchor="end" fill="#5a5a5a" stroke="#5a5a5a" stroke-width="0.18">0.6</text><text x="277.00" y="447.00" font-size="5.60" text-anchor="end" fill="#5a5a5a" stroke="#5a5a5a" stroke-width="0.18">0.8</text><text x="277.00" y="429.00" font-size="5.60" text-anchor="end" fill="#5a5a5a" stroke="#5a5a5a" stroke-width="0.18"> </text><path transform="matrix(0.00273 0 0 -0.00273 273.886 429.000)" d="M583 0V1237L265 1010V1180L598 1409H764V0Z" fill="#5a5a5a" stroke="#5a5a5a" stroke-width="0.18" vector-effect="non-scaling-stroke"/><text x="324.00" y="532.40" font-size="7.00" text-anchor="middle" fill="#3a3a3a" stroke="#3a3a3a" stroke-width="0.22">distance</text><text transform="translate(267.20 472.20) rotate(-90)" font-size="6.90" text-anchor="middle" fill="#3a3a3a" stroke="#3a3a3a" stroke-width="0.22">semivariance</text><text x="324.00" y="424.00" font-size="9.30" text-anchor="middle" fill="#111" stroke="#111" stroke-width="0.18">Band 6</text><path d="M278.20 517.10h2.20M279.30 516.00v2.20M279.99 468.36h2.20M281.09 467.26v2.20M281.78 455.59h2.20M282.88 454.49v2.20M283.56 449.12h2.20M284.66 448.02v2.20M285.35 445.01h2.20M286.45 443.91v2.20M287.14 442.20h2.20M288.24 441.10v2.20M288.93 440.11h2.20M290.03 439.01v2.20M290.72 438.32h2.20M291.82 437.22v2.20M292.50 436.79h2.20M293.60 435.69v2.20M294.29 435.44h2.20M295.39 434.34v2.20M296.08 434.32h2.20M297.18 433.22v2.20M297.87 433.37h2.20M298.97 432.27v2.20M299.66 432.61h2.20M300.76 431.51v2.20M301.44 432.21h2.20M302.54 431.11v2.20M303.23 432.10h2.20M304.33 431.00v2.20M305.02 432.17h2.20M306.12 431.07v2.20M306.81 432.24h2.20M307.91 431.14v2.20M308.60 432.34h2.20M309.70 431.24v2.20M310.38 432.39h2.20M311.48 431.29v2.20M312.17 432.42h2.20M313.27 431.32v2.20M313.96 432.43h2.20M315.06 431.33v2.20M315.75 432.44h2.20M316.85 431.34v2.20M317.54 432.43h2.20M318.64 431.33v2.20M319.32 432.40h2.20M320.42 431.30v2.20M321.11 432.29h2.20M322.21 431.19v2.20M322.90 432.11h2.20M324.00 431.01v2.20M324.69 431.88h2.20M325.79 430.78v2.20M326.48 431.45h2.20M327.58 430.35v2.20M328.26 430.99h2.20M329.36 429.89v2.20M330.05 430.85h2.20M331.15 429.75v2.20M331.84 430.80h2.20M332.94 429.70v2.20M333.63 430.80h2.20M334.73 429.70v2.20M335.42 430.80h2.20M336.52 429.70v2.20M337.20 430.80h2.20M338.30 429.70v2.20M338.99 430.80h2.20M340.09 429.70v2.20M340.78 430.80h2.20M341.88 429.70v2.20M342.57 430.82h2.20M343.67 429.72v2.20M344.36 430.88h2.20M345.46 429.78v2.20M346.14 430.97h2.20M347.24 429.87v2.20M347.93 431.07h2.20M349.03 429.97v2.20M349.72 431.17h2.20M350.82 430.07v2.20M351.51 431.28h2.20M352.61 430.18v2.20M353.30 431.42h2.20M354.40 430.32v2.20M355.08 431.53h2.20M356.18 430.43v2.20M356.87 431.60h2.20M357.97 430.50v2.20M358.66 431.59h2.20M359.76 430.49v2.20M360.45 431.50h2.20M361.55 430.40v2.20M362.24 431.37h2.20M363.34 430.27v2.20M364.02 431.25h2.20M365.12 430.15v2.20M365.81 431.17h2.20M366.91 430.07v2.20M367.60 431.16h2.20M368.70 430.06v2.20" fill="none" stroke="#4040ff" stroke-width="0.9"/><polyline points="279.30,517.10 279.52,498.16 279.75,486.45 279.97,481.01 280.19,477.56 280.42,474.81 280.64,472.37 280.86,470.27 281.09,468.36 281.31,466.50 281.54,464.60 281.76,462.71 281.98,460.93 282.21,459.35 282.43,457.98 282.65,456.73 282.88,455.59 283.10,454.55 283.32,453.60 283.55,452.74 283.77,451.94 283.99,451.19 284.22,450.48 284.44,449.79 284.66,449.12 284.89,448.49 285.11,447.89 285.33,447.34 285.56,446.83 285.78,446.35 286.00,445.88 286.23,445.43 286.45,445.01 286.68,444.60 286.90,444.20 287.12,443.83 287.35,443.48 287.57,443.14 287.79,442.81 288.02,442.50 288.24,442.20 288.46,441.91 288.69,441.64 288.91,441.37 289.13,441.10 289.36,440.85 289.58,440.60 289.80,440.35 290.03,440.11 290.25,439.87 290.48,439.64 290.70,439.41 290.92,439.18 291.15,438.96 291.37,438.74 291.59,438.53 291.82,438.32 292.04,438.11 292.26,437.91 292.49,437.71 292.71,437.52 292.93,437.33 293.16,437.15 293.38,436.97 293.60,436.79 293.83,436.61 294.05,436.43 294.27,436.26 294.50,436.09 294.72,435.92 294.94,435.76 295.17,435.60 295.39,435.44 295.62,435.29 295.84,435.14 296.06,434.99 296.29,434.85 296.51,434.71 296.73,434.58 296.96,434.45 297.18,434.32 297.40,434.20 297.63,434.07 297.85,433.95 298.07,433.83 298.30,433.71 298.52,433.60 298.74,433.48 298.97,433.37 299.19,433.26 299.42,433.16 299.64,433.06 299.86,432.96 300.09,432.87 300.31,432.78 300.53,432.69 300.76,432.61 300.98,432.54 301.20,432.47 301.43,432.40 301.65,432.33 301.87,432.26 302.10,432.20 302.32,432.13 302.54,432.07 302.77,432.00 302.99,431.94 303.21,431.89 303.44,431.83 303.66,431.78 303.88,431.73 304.11,431.69 304.33,431.65 304.56,431.61 304.78,431.58 305.00,431.55 305.23,431.53 305.45,431.51 305.67,431.49 305.90,431.47 306.12,431.45 306.34,431.43 306.57,431.41 306.79,431.40 307.01,431.39 307.24,431.37 307.46,431.36 307.68,431.35 307.91,431.35 308.13,431.34 308.36,431.34 308.58,431.34 308.80,431.34 309.03,431.35 309.25,431.35 309.47,431.35 309.70,431.36 309.92,431.36 310.14,431.37 310.37,431.37 310.59,431.38 310.81,431.39 311.04,431.39 311.26,431.40 311.48,431.41 311.71,431.41 311.93,431.42 312.15,431.42 312.38,431.43 312.60,431.43 312.82,431.43 313.05,431.44 313.27,431.44 313.50,431.44 313.72,431.45 313.94,431.45 314.17,431.46 314.39,431.46 314.61,431.46 314.84,431.47 315.06,431.47 315.28,431.47 315.51,431.48 315.73,431.48 315.95,431.48 316.18,431.49 316.40,431.49 316.62,431.49 316.85,431.50 317.07,431.50 317.30,431.50 317.52,431.50 317.74,431.51 317.97,431.51 318.19,431.51 318.41,431.51 318.64,431.51 318.86,431.52 319.08,431.52 319.31,431.52 319.53,431.52 319.75,431.52 319.98,431.52 320.20,431.52 320.42,431.52 320.65,431.52 320.87,431.52 321.09,431.52 321.32,431.52 321.54,431.52 321.76,431.52 321.99,431.52 322.21,431.51 322.44,431.51 322.66,431.51 322.88,431.51 323.11,431.51 323.33,431.50 323.55,431.50 323.78,431.50 324.00,431.50 324.22,431.49 324.45,431.49 324.67,431.49 324.89,431.49 325.12,431.48 325.34,431.48 325.56,431.48 325.79,431.47 326.01,431.47 326.24,431.47 326.46,431.47 326.68,431.46 326.91,431.46 327.13,431.46 327.35,431.46 327.58,431.45 327.80,431.45 328.02,431.45 328.25,431.45 328.47,431.44 328.69,431.44 328.92,431.44 329.14,431.44 329.36,431.44 329.59,431.44 329.81,431.43 330.03,431.43 330.26,431.43 330.48,431.43 330.70,431.43 330.93,431.43 331.15,431.43 331.38,431.43 331.60,431.43 331.82,431.43 332.05,431.43 332.27,431.43 332.49,431.43 332.72,431.43 332.94,431.43 333.16,431.43 333.39,431.43 333.61,431.43 333.83,431.43 334.06,431.43 334.28,431.43 334.50,431.43 334.73,431.43 334.95,431.43 335.18,431.43 335.40,431.43 335.62,431.43 335.85,431.43 336.07,431.43 336.29,431.43 336.52,431.43 336.74,431.43 336.96,431.43 337.19,431.43 337.41,431.43 337.63,431.43 337.86,431.43 338.08,431.43 338.30,431.43 338.53,431.43 338.75,431.43 338.97,431.43 339.20,431.43 339.42,431.43 339.64,431.43 339.87,431.43 340.09,431.43 340.32,431.43 340.54,431.43 340.76,431.43 340.99,431.43 341.21,431.43 341.43,431.43 341.66,431.43 341.88,431.43 342.10,431.43 342.33,431.43 342.55,431.43 342.77,431.43 343.00,431.43 343.22,431.43 343.44,431.43 343.67,431.43 343.89,431.43 344.12,431.43 344.34,431.43 344.56,431.43 344.79,431.43 345.01,431.43 345.23,431.43 345.46,431.43 345.68,431.43 345.90,431.43 346.13,431.43 346.35,431.43 346.57,431.43 346.80,431.43 347.02,431.43 347.24,431.43 347.47,431.43 347.69,431.43 347.91,431.43 348.14,431.43 348.36,431.43 348.58,431.43 348.81,431.43 349.03,431.43 349.26,431.43 349.48,431.43 349.70,431.43 349.93,431.43 350.15,431.43 350.37,431.43 350.60,431.43 350.82,431.43 351.04,431.43 351.27,431.43 351.49,431.43 351.71,431.43 351.94,431.43 352.16,431.43 352.38,431.43 352.61,431.43 352.83,431.43 353.06,431.43 353.28,431.43 353.50,431.43 353.73,431.43 353.95,431.43 354.17,431.43 354.40,431.43 354.62,431.43 354.84,431.43 355.07,431.43 355.29,431.43 355.51,431.43 355.74,431.43 355.96,431.43 356.18,431.43 356.41,431.43 356.63,431.43 356.85,431.43 357.08,431.43 357.30,431.43 357.52,431.43 357.75,431.43 357.97,431.43 358.20,431.43 358.42,431.43 358.64,431.43 358.87,431.43 359.09,431.43 359.31,431.43 359.54,431.43 359.76,431.43 359.98,431.43 360.21,431.43 360.43,431.43 360.65,431.43 360.88,431.43 361.10,431.43 361.32,431.43 361.55,431.43 361.77,431.43 362.00,431.43 362.22,431.43 362.44,431.43 362.67,431.43 362.89,431.43 363.11,431.43 363.34,431.43 363.56,431.43 363.78,431.43 364.01,431.43 364.23,431.43 364.45,431.43 364.68,431.43 364.90,431.43 365.12,431.43 365.35,431.43 365.57,431.43 365.79,431.43 366.02,431.43 366.24,431.43 366.46,431.43 366.69,431.43 366.91,431.43 367.14,431.43 367.36,431.43 367.58,431.43 367.81,431.43 368.03,431.43 368.25,431.43 368.48,431.43 368.70,431.43" fill="none" stroke="#ff1010" stroke-width="1.35" stroke-linejoin="round"/></g>
<text x="198.9" y="267.0" font-family='"Liberation Serif", serif' font-weight="bold" font-size="8.2" text-anchor="middle" fill="#000">(a)</text>
<text x="196.9" y="546.8" font-family='"Liberation Serif", serif' font-weight="bold" font-size="8.2" text-anchor="middle" fill="#000">(b)</text>
</svg></body></html>
